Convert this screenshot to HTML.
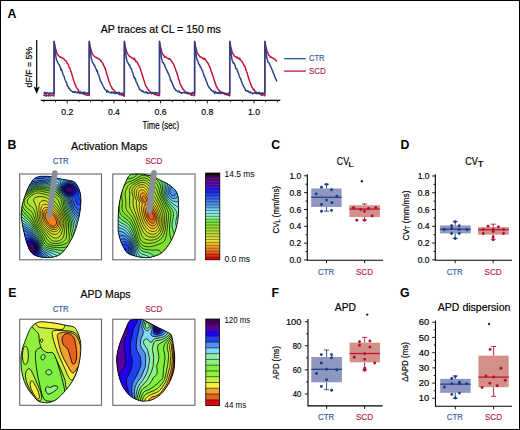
<!DOCTYPE html>
<html><head><meta charset="utf-8"><style>
html,body{margin:0;padding:0;background:#fff;}
svg{display:block;font-family:"Liberation Sans", sans-serif;}
</style></head><body>
<svg width="520" height="430" viewBox="0 0 520 430">
<rect width="520" height="430" fill="#fff"/>
<rect x="0.5" y="0.5" width="519" height="429" fill="none" stroke="#000" stroke-width="1"/>
<text x="7.6" y="17.7" font-size="12.3" fill="#000" font-weight="bold" text-anchor="start" >A</text>
<text x="7.4" y="148.6" font-size="12.3" fill="#000" font-weight="bold" text-anchor="start" >B</text>
<text x="271.2" y="148.7" font-size="12.3" fill="#000" font-weight="bold" text-anchor="start" >C</text>
<text x="400.6" y="148.8" font-size="12.3" fill="#000" font-weight="bold" text-anchor="start" >D</text>
<text x="8.2" y="297.2" font-size="12.3" fill="#000" font-weight="bold" text-anchor="start" >E</text>
<text x="271.6" y="296.8" font-size="12.3" fill="#000" font-weight="bold" text-anchor="start" >F</text>
<text x="400.0" y="297.3" font-size="12.3" fill="#000" font-weight="bold" text-anchor="start" >G</text>
<text x="100.8" y="33.3" font-size="10.3" fill="#000" stroke="#000" stroke-width="0.18" font-weight="normal" text-anchor="start" textLength="120" lengthAdjust="spacingAndGlyphs" >AP traces at CL = 150 ms</text>
<line x1="36.7" y1="40" x2="36.7" y2="88" stroke="#000" stroke-width="1.2"/>
<path d="M33.6,86.4 L36.7,94 L39.8,86.4 L36.7,88.2 Z" fill="#000"/>
<text x="0" y="0" font-size="9" fill="#000" stroke="#000" stroke-width="0.18" font-weight="normal" text-anchor="start" textLength="40.4" lengthAdjust="spacingAndGlyphs" transform="translate(32.2,87.4) rotate(-90)">dF/F = 5%</text>
<line x1="40.8" y1="100.4" x2="280.3" y2="100.4" stroke="#000" stroke-width="1.2"/>
<path d="M43.85,100.4 v1.8 M55.52,100.4 v1.8 M67.20,100.4 v3.0 M78.88,100.4 v1.8 M90.55,100.4 v1.8 M102.22,100.4 v1.8 M113.90,100.4 v3.0 M125.58,100.4 v1.8 M137.25,100.4 v1.8 M148.93,100.4 v1.8 M160.60,100.4 v3.0 M172.28,100.4 v1.8 M183.95,100.4 v1.8 M195.62,100.4 v1.8 M207.30,100.4 v3.0 M218.97,100.4 v1.8 M230.65,100.4 v1.8 M242.32,100.4 v1.8 M254.00,100.4 v3.0 M265.68,100.4 v1.8 M277.35,100.4 v1.8" stroke="#000" stroke-width="0.9" fill="none"/>
<text x="67.2" y="115" font-size="9.6" fill="#000" stroke="#000" stroke-width="0.18" font-weight="normal" text-anchor="middle" textLength="12.0" lengthAdjust="spacingAndGlyphs" >0.2</text>
<text x="113.9" y="115" font-size="9.6" fill="#000" stroke="#000" stroke-width="0.18" font-weight="normal" text-anchor="middle" textLength="12.0" lengthAdjust="spacingAndGlyphs" >0.4</text>
<text x="160.6" y="115" font-size="9.6" fill="#000" stroke="#000" stroke-width="0.18" font-weight="normal" text-anchor="middle" textLength="12.0" lengthAdjust="spacingAndGlyphs" >0.6</text>
<text x="207.3" y="115" font-size="9.6" fill="#000" stroke="#000" stroke-width="0.18" font-weight="normal" text-anchor="middle" textLength="12.0" lengthAdjust="spacingAndGlyphs" >0.8</text>
<text x="254.0" y="115" font-size="9.6" fill="#000" stroke="#000" stroke-width="0.18" font-weight="normal" text-anchor="middle" textLength="12.0" lengthAdjust="spacingAndGlyphs" >1.0</text>
<text x="142.5" y="128.6" font-size="10.4" fill="#000" stroke="#000" stroke-width="0.18" font-weight="normal" text-anchor="start" textLength="36.6" lengthAdjust="spacingAndGlyphs" >Time (sec)</text>
<path d="M43.50,96.07 L44.00,95.29 L44.50,95.32 L45.00,95.12 L45.50,95.80 L46.00,94.69 L46.50,96.11 L47.00,95.23 L47.50,95.61 L48.00,95.41 L48.50,96.01 L49.00,94.78 L49.50,95.39 L50.00,95.37 L50.50,95.90 L51.00,95.12 L51.50,95.44 L52.00,95.19 L52.50,95.51 L53.00,95.70 L53.50,95.11 L54.00,95.90 L54.09,95.50 L54.10,41.20 L54.60,44.10 L55.10,47.00 L55.60,48.76 L56.10,50.53 L56.60,52.61 L57.10,53.63 L57.60,54.53 L58.10,54.74 L58.60,55.70 L59.10,56.17 L59.60,56.67 L60.10,57.21 L60.60,57.04 L61.10,57.40 L61.60,57.56 L62.10,57.74 L62.60,58.05 L63.10,58.52 L63.60,58.37 L64.10,59.08 L64.60,60.16 L65.10,60.43 L65.60,60.68 L66.10,61.02 L66.60,61.66 L67.10,63.09 L67.60,63.52 L68.10,64.28 L68.60,65.57 L69.10,67.24 L69.60,67.54 L70.10,69.22 L70.60,70.61 L71.10,71.88 L71.60,73.23 L72.10,75.13 L72.60,76.80 L73.10,78.71 L73.60,80.29 L74.10,81.83 L74.60,83.10 L75.10,84.81 L75.60,85.24 L76.10,86.94 L76.60,87.68 L77.10,88.40 L77.60,89.24 L78.10,89.62 L78.60,90.61 L79.10,91.32 L79.60,92.12 L80.10,91.44 L80.60,91.99 L81.10,92.53 L81.60,92.97 L82.10,93.43 L82.60,93.45 L83.10,92.84 L83.60,93.65 L84.10,94.25 L84.60,94.25 L85.10,94.65 L85.60,94.51 L86.10,94.73 L86.60,94.98 L87.10,95.17 L87.60,95.20 L88.10,95.29 L88.60,95.12 L89.10,95.60 L89.22,95.50 L89.23,41.20 L89.73,44.10 L90.23,47.00 L90.73,48.76 L91.23,50.53 L91.73,52.34 L92.23,53.85 L92.73,54.64 L93.23,55.04 L93.73,55.61 L94.23,56.28 L94.73,56.91 L95.23,57.05 L95.73,57.16 L96.23,57.56 L96.73,57.58 L97.23,58.28 L97.73,58.12 L98.23,58.95 L98.73,58.90 L99.23,59.21 L99.73,59.20 L100.23,60.23 L100.73,61.01 L101.23,61.00 L101.73,61.82 L102.23,62.51 L102.73,63.02 L103.23,64.61 L103.73,65.80 L104.23,66.20 L104.73,67.62 L105.23,68.54 L105.73,70.49 L106.23,71.43 L106.73,74.02 L107.23,75.39 L107.73,76.87 L108.23,78.23 L108.73,80.45 L109.23,82.19 L109.73,82.35 L110.23,84.93 L110.73,86.07 L111.23,86.62 L111.73,87.08 L112.23,88.80 L112.73,89.01 L113.23,89.43 L113.73,89.78 L114.23,90.98 L114.73,91.63 L115.23,91.71 L115.73,92.68 L116.23,92.31 L116.73,93.20 L117.23,93.14 L117.73,93.27 L118.23,93.51 L118.73,94.06 L119.23,94.23 L119.73,94.36 L120.23,94.43 L120.73,94.62 L121.23,95.02 L121.73,94.99 L122.23,95.26 L122.73,95.03 L123.23,94.40 L123.73,95.72 L124.23,96.24 L124.35,95.50 L124.36,41.20 L124.86,44.10 L125.36,47.00 L125.86,48.76 L126.36,50.53 L126.86,52.45 L127.36,53.42 L127.86,54.17 L128.36,54.94 L128.86,55.75 L129.36,56.11 L129.86,56.58 L130.36,56.67 L130.86,57.37 L131.36,57.44 L131.86,57.97 L132.36,57.98 L132.86,58.63 L133.36,58.59 L133.86,59.53 L134.36,58.34 L134.86,59.36 L135.36,60.48 L135.86,61.63 L136.36,61.25 L136.86,61.93 L137.36,62.42 L137.86,63.97 L138.36,64.40 L138.86,65.74 L139.36,66.39 L139.86,67.05 L140.36,69.11 L140.86,70.68 L141.36,72.45 L141.86,73.59 L142.36,75.03 L142.86,77.07 L143.36,78.58 L143.86,80.10 L144.36,81.47 L144.86,83.41 L145.36,84.63 L145.86,86.17 L146.36,86.89 L146.86,87.73 L147.36,87.93 L147.86,89.28 L148.36,89.79 L148.86,90.50 L149.36,91.15 L149.86,91.22 L150.36,92.22 L150.86,92.30 L151.36,93.39 L151.86,92.45 L152.36,92.51 L152.86,92.76 L153.36,93.23 L153.86,93.36 L154.36,94.65 L154.86,94.06 L155.36,93.91 L155.86,94.98 L156.36,94.59 L156.86,94.48 L157.36,95.33 L157.86,95.35 L158.36,95.10 L158.86,95.85 L159.36,95.52 L159.48,95.50 L159.49,41.20 L159.99,44.10 L160.49,47.00 L160.99,48.76 L161.49,50.53 L161.99,52.86 L162.49,53.63 L162.99,54.76 L163.49,55.02 L163.99,55.31 L164.49,57.36 L164.99,56.57 L165.49,56.95 L165.99,57.03 L166.49,57.47 L166.99,57.88 L167.49,58.11 L167.99,58.51 L168.49,59.15 L168.99,58.72 L169.49,58.57 L169.99,59.17 L170.49,59.93 L170.99,60.16 L171.49,61.62 L171.99,61.74 L172.49,62.39 L172.99,63.50 L173.49,64.01 L173.99,65.20 L174.49,66.74 L174.99,67.72 L175.49,68.84 L175.99,71.13 L176.49,71.54 L176.99,73.50 L177.49,75.17 L177.99,75.90 L178.49,79.18 L178.99,80.13 L179.49,81.13 L179.99,83.72 L180.49,84.70 L180.99,85.65 L181.49,86.29 L181.99,87.54 L182.49,87.97 L182.99,89.35 L183.49,89.51 L183.99,90.26 L184.49,91.21 L184.99,91.46 L185.49,92.02 L185.99,92.60 L186.49,92.45 L186.99,93.21 L187.49,93.67 L187.99,93.60 L188.49,93.86 L188.99,93.45 L189.49,93.66 L189.99,93.67 L190.49,94.81 L190.99,94.50 L191.49,95.29 L191.99,94.64 L192.49,94.87 L192.99,95.17 L193.49,95.57 L193.99,95.38 L194.49,95.54 L194.61,95.50 L194.62,41.20 L195.12,44.10 L195.62,47.00 L196.12,48.76 L196.62,50.53 L197.12,52.30 L197.62,53.52 L198.12,53.83 L198.62,55.01 L199.12,55.67 L199.62,56.48 L200.12,56.93 L200.62,56.78 L201.12,57.25 L201.62,57.44 L202.12,57.95 L202.62,58.31 L203.12,57.95 L203.62,58.73 L204.12,59.48 L204.62,58.49 L205.12,59.29 L205.62,59.86 L206.12,60.65 L206.62,61.90 L207.12,61.92 L207.62,62.26 L208.12,63.72 L208.62,64.29 L209.12,65.89 L209.62,66.61 L210.12,67.99 L210.62,68.77 L211.12,71.56 L211.62,72.29 L212.12,73.85 L212.62,75.23 L213.12,76.62 L213.62,78.20 L214.12,79.95 L214.62,81.22 L215.12,83.10 L215.62,84.21 L216.12,85.72 L216.62,86.83 L217.12,87.25 L217.62,88.92 L218.12,88.99 L218.62,90.05 L219.12,90.37 L219.62,91.18 L220.12,91.01 L220.62,91.89 L221.12,93.01 L221.62,92.49 L222.12,92.21 L222.62,92.45 L223.12,92.46 L223.62,92.81 L224.12,93.61 L224.62,94.41 L225.12,94.02 L225.62,94.50 L226.12,94.55 L226.62,94.80 L227.12,94.85 L227.62,94.96 L228.12,95.30 L228.62,94.84 L229.12,95.71 L229.62,95.79 L229.74,95.50 L229.75,41.20 L230.25,44.10 L230.75,47.00 L231.25,48.76 L231.75,50.53 L232.25,52.23 L232.75,53.74 L233.25,53.97 L233.75,54.79 L234.25,55.79 L234.75,56.43 L235.25,56.60 L235.75,56.78 L236.25,57.08 L236.75,57.87 L237.25,57.12 L237.75,58.16 L238.25,58.20 L238.75,58.77 L239.25,58.94 L239.75,58.03 L240.25,59.79 L240.75,60.28 L241.25,60.76 L241.75,61.17 L242.25,62.22 L242.75,62.36 L243.25,64.14 L243.75,64.70 L244.25,66.25 L244.75,66.23 L245.25,66.89 L245.75,69.25 L246.25,70.80 L246.75,72.01 L247.25,73.09 L247.75,75.09 L248.25,77.09 L248.75,78.44 L249.25,79.96 L249.75,81.44 L250.25,82.67 L250.75,84.31 L251.25,85.00 L251.75,87.12 L252.25,87.33 L252.75,88.67 L253.25,88.71 L253.75,89.92 L254.25,89.56 L254.75,91.11 L255.25,91.34 L255.75,92.67 L256.25,92.04 L256.75,92.74 L257.25,93.05 L257.75,93.56 L258.25,93.19 L258.75,93.58 L259.25,93.00 L259.75,93.67 L260.25,94.33 L260.75,94.77 L261.25,94.49 L261.75,95.52 L262.25,95.53 L262.75,95.00 L263.25,94.29 L263.75,94.63 L264.25,95.09 L264.75,95.86 L264.87,95.50 L264.88,41.20 L265.38,44.10 L265.88,47.00 L266.38,48.76 L266.88,50.53 L267.38,52.40 L267.88,52.72 L268.38,54.14 L268.88,55.54 L269.38,55.61 L269.88,56.24 L270.38,57.48 L270.88,57.04 L271.38,57.11 L271.88,57.66 L272.38,57.81 L272.88,57.89 L273.38,58.70 L273.88,58.91 L274.38,59.05 L274.88,58.96 L275.38,59.98 L275.88,60.15 L276.38,60.91 L276.88,61.70" fill="none" stroke="#c0123a" stroke-width="1.45" stroke-linejoin="round"/>
<path d="M43.50,93.11 L44.00,93.27 L44.50,92.34 L45.00,94.04 L45.50,92.49 L46.00,92.92 L46.50,93.53 L47.00,92.74 L47.50,92.82 L48.00,92.89 L48.50,93.55 L49.00,94.33 L49.50,93.32 L50.00,92.80 L50.50,93.54 L51.00,93.03 L51.50,93.29 L52.00,93.83 L52.50,92.96 L53.00,93.30 L53.50,92.90 L54.00,93.23 L54.09,93.30 L54.10,41.80 L54.60,45.90 L55.10,50.00 L55.60,54.15 L56.10,58.30 L56.60,60.02 L57.10,61.06 L57.60,62.22 L58.10,63.14 L58.60,63.84 L59.10,64.47 L59.60,65.44 L60.10,67.10 L60.60,68.13 L61.10,70.34 L61.60,69.32 L62.10,71.55 L62.60,73.00 L63.10,74.78 L63.60,75.73 L64.10,76.45 L64.60,78.17 L65.10,79.74 L65.60,80.61 L66.10,82.35 L66.60,82.41 L67.10,85.28 L67.60,86.16 L68.10,86.35 L68.60,87.78 L69.10,88.52 L69.60,88.70 L70.10,89.69 L70.60,90.68 L71.10,90.63 L71.60,90.86 L72.10,91.23 L72.60,91.70 L73.10,92.31 L73.60,91.68 L74.10,92.43 L74.60,92.38 L75.10,91.52 L75.60,92.25 L76.10,92.46 L76.60,92.58 L77.10,92.83 L77.60,91.84 L78.10,92.86 L78.60,92.62 L79.10,92.35 L79.60,93.25 L80.10,93.36 L80.60,92.75 L81.10,93.44 L81.60,92.90 L82.10,93.12 L82.60,92.61 L83.10,93.83 L83.60,91.94 L84.10,93.11 L84.60,93.48 L85.10,92.26 L85.60,93.11 L86.10,93.17 L86.60,93.59 L87.10,93.80 L87.60,93.07 L88.10,92.64 L88.60,93.90 L89.10,93.84 L89.22,93.30 L89.23,41.80 L89.73,45.90 L90.23,50.00 L90.73,54.15 L91.23,58.30 L91.73,59.69 L92.23,61.66 L92.73,62.55 L93.23,63.50 L93.73,64.22 L94.23,65.63 L94.73,65.30 L95.23,67.64 L95.73,68.42 L96.23,69.24 L96.73,70.94 L97.23,70.45 L97.73,73.36 L98.23,74.34 L98.73,74.99 L99.23,77.03 L99.73,78.03 L100.23,80.66 L100.73,81.58 L101.23,82.20 L101.73,82.93 L102.23,84.24 L102.73,85.35 L103.23,86.25 L103.73,87.09 L104.23,88.23 L104.73,88.95 L105.23,89.42 L105.73,89.91 L106.23,90.38 L106.73,92.18 L107.23,90.60 L107.73,91.04 L108.23,91.93 L108.73,91.82 L109.23,92.39 L109.73,92.64 L110.23,92.93 L110.73,92.78 L111.23,92.07 L111.73,93.10 L112.23,91.89 L112.73,92.71 L113.23,92.62 L113.73,92.44 L114.23,93.27 L114.73,92.93 L115.23,93.49 L115.73,92.38 L116.23,93.44 L116.73,93.30 L117.23,93.15 L117.73,92.47 L118.23,93.01 L118.73,92.44 L119.23,92.21 L119.73,94.64 L120.23,93.61 L120.73,94.00 L121.23,93.01 L121.73,93.54 L122.23,93.55 L122.73,93.52 L123.23,93.27 L123.73,93.18 L124.23,92.36 L124.35,93.30 L124.36,41.80 L124.86,45.90 L125.36,50.00 L125.86,54.15 L126.36,58.30 L126.86,60.17 L127.36,61.69 L127.86,62.88 L128.36,63.13 L128.86,64.91 L129.36,64.80 L129.86,65.52 L130.36,67.59 L130.86,68.04 L131.36,68.77 L131.86,70.47 L132.36,71.84 L132.86,72.94 L133.36,74.39 L133.86,77.35 L134.36,77.20 L134.86,78.86 L135.36,78.61 L135.86,80.91 L136.36,82.35 L136.86,83.09 L137.36,84.11 L137.86,85.68 L138.36,86.36 L138.86,87.23 L139.36,89.02 L139.86,89.68 L140.36,89.79 L140.86,90.02 L141.36,91.03 L141.86,91.41 L142.36,91.55 L142.86,90.85 L143.36,91.58 L143.86,92.13 L144.36,92.48 L144.86,92.71 L145.36,92.70 L145.86,91.93 L146.36,92.20 L146.86,92.05 L147.36,93.49 L147.86,92.84 L148.36,93.09 L148.86,93.38 L149.36,92.85 L149.86,92.50 L150.36,92.84 L150.86,92.98 L151.36,93.73 L151.86,93.47 L152.36,92.60 L152.86,93.40 L153.36,93.45 L153.86,92.66 L154.36,93.10 L154.86,92.33 L155.36,93.33 L155.86,93.05 L156.36,92.60 L156.86,92.91 L157.36,93.34 L157.86,93.00 L158.36,93.40 L158.86,93.53 L159.36,92.92 L159.48,93.30 L159.49,41.80 L159.99,45.90 L160.49,50.00 L160.99,54.15 L161.49,58.30 L161.99,59.76 L162.49,62.47 L162.99,62.43 L163.49,62.87 L163.99,64.15 L164.49,64.40 L164.99,66.59 L165.49,67.33 L165.99,68.74 L166.49,69.74 L166.99,70.59 L167.49,71.94 L167.99,72.92 L168.49,73.87 L168.99,75.04 L169.49,76.63 L169.99,77.04 L170.49,80.32 L170.99,79.98 L171.49,81.97 L171.99,82.66 L172.49,83.59 L172.99,85.46 L173.49,86.36 L173.99,87.43 L174.49,88.75 L174.99,88.80 L175.49,89.82 L175.99,90.46 L176.49,90.65 L176.99,90.91 L177.49,91.51 L177.99,91.53 L178.49,91.80 L178.99,90.90 L179.49,92.23 L179.99,92.45 L180.49,92.30 L180.99,92.59 L181.49,93.38 L181.99,92.64 L182.49,92.98 L182.99,92.38 L183.49,92.46 L183.99,92.70 L184.49,92.54 L184.99,93.01 L185.49,92.61 L185.99,92.97 L186.49,92.41 L186.99,92.33 L187.49,92.78 L187.99,92.62 L188.49,92.82 L188.99,92.86 L189.49,92.99 L189.99,93.63 L190.49,93.79 L190.99,93.52 L191.49,93.05 L191.99,93.90 L192.49,92.55 L192.99,92.34 L193.49,93.39 L193.99,93.28 L194.49,93.23 L194.61,93.30 L194.62,41.80 L195.12,45.90 L195.62,50.00 L196.12,54.15 L196.62,58.30 L197.12,59.91 L197.62,60.76 L198.12,61.85 L198.62,63.81 L199.12,64.59 L199.62,64.68 L200.12,66.95 L200.62,66.68 L201.12,67.99 L201.62,69.46 L202.12,69.88 L202.62,71.28 L203.12,72.76 L203.62,73.99 L204.12,75.89 L204.62,77.10 L205.12,77.67 L205.62,79.19 L206.12,80.83 L206.62,81.97 L207.12,82.90 L207.62,84.69 L208.12,85.87 L208.62,86.22 L209.12,87.86 L209.62,87.77 L210.12,88.35 L210.62,89.87 L211.12,89.85 L211.62,90.35 L212.12,90.91 L212.62,90.96 L213.12,91.65 L213.62,91.08 L214.12,91.80 L214.62,93.62 L215.12,92.33 L215.62,91.50 L216.12,92.71 L216.62,92.77 L217.12,93.22 L217.62,92.75 L218.12,92.47 L218.62,93.47 L219.12,93.24 L219.62,92.19 L220.12,93.35 L220.62,92.92 L221.12,93.54 L221.62,92.89 L222.12,93.43 L222.62,93.18 L223.12,93.37 L223.62,93.11 L224.12,92.95 L224.62,93.18 L225.12,93.45 L225.62,93.37 L226.12,93.92 L226.62,93.40 L227.12,93.51 L227.62,94.18 L228.12,93.28 L228.62,93.51 L229.12,93.01 L229.62,93.32 L229.74,93.30 L229.75,41.80 L230.25,45.90 L230.75,50.00 L231.25,54.15 L231.75,58.30 L232.25,60.64 L232.75,61.64 L233.25,63.03 L233.75,62.77 L234.25,63.49 L234.75,65.14 L235.25,65.47 L235.75,68.37 L236.25,68.81 L236.75,68.77 L237.25,70.34 L237.75,71.24 L238.25,73.02 L238.75,74.14 L239.25,75.92 L239.75,77.49 L240.25,78.07 L240.75,78.97 L241.25,81.00 L241.75,81.93 L242.25,83.77 L242.75,84.43 L243.25,85.87 L243.75,86.65 L244.25,87.41 L244.75,88.30 L245.25,89.40 L245.75,90.79 L246.25,90.60 L246.75,90.74 L247.25,91.35 L247.75,91.32 L248.25,90.92 L248.75,91.87 L249.25,92.66 L249.75,92.06 L250.25,91.77 L250.75,92.58 L251.25,93.26 L251.75,92.94 L252.25,93.06 L252.75,93.72 L253.25,93.49 L253.75,93.16 L254.25,92.83 L254.75,93.06 L255.25,92.97 L255.75,93.41 L256.25,92.65 L256.75,93.75 L257.25,93.14 L257.75,92.91 L258.25,93.47 L258.75,92.18 L259.25,92.76 L259.75,92.85 L260.25,93.53 L260.75,92.96 L261.25,93.83 L261.75,93.01 L262.25,93.46 L262.75,92.92 L263.25,93.77 L263.75,93.15 L264.25,93.51 L264.75,93.07 L264.87,93.30 L264.88,41.80 L265.38,45.90 L265.88,50.00 L266.38,54.15 L266.88,58.30 L267.38,59.41 L267.88,61.40 L268.38,62.87 L268.88,62.79 L269.38,63.44 L269.88,64.86 L270.38,66.43 L270.88,66.69 L271.38,68.01 L271.88,69.42 L272.38,70.27 L272.88,71.63 L273.38,73.37 L273.88,74.18 L274.38,75.47 L274.88,77.18 L275.38,78.14 L275.88,79.07 L276.38,80.29 L276.88,81.50" fill="none" stroke="#26428a" stroke-width="1.45" stroke-linejoin="round"/>
<line x1="284.1" y1="58.7" x2="305.8" y2="58.7" stroke="#33549a" stroke-width="1.3"/>
<line x1="284.1" y1="71.1" x2="305.8" y2="71.1" stroke="#c0123a" stroke-width="1.3"/>
<text x="309" y="61.0" font-size="9.5" fill="#3d5c9e" stroke="#3d5c9e" stroke-width="0.18" font-weight="normal" text-anchor="start" textLength="15.6" lengthAdjust="spacingAndGlyphs" >CTR</text>
<text x="309" y="73.9" font-size="9.5" fill="#b82a50" stroke="#b82a50" stroke-width="0.18" font-weight="normal" text-anchor="start" textLength="16.8" lengthAdjust="spacingAndGlyphs" >SCD</text>
<text x="71" y="149.5" font-size="10.9" fill="#000" stroke="#000" stroke-width="0.18" font-weight="normal" text-anchor="start" textLength="76.5" lengthAdjust="spacingAndGlyphs" >Activation Maps</text>
<text x="52.7" y="164.2" font-size="9.4" fill="#3d5c9e" stroke="#3d5c9e" stroke-width="0.18" font-weight="normal" text-anchor="start" textLength="16.1" lengthAdjust="spacingAndGlyphs" >CTR</text>
<text x="145.2" y="164.2" font-size="9.4" fill="#b82a50" stroke="#b82a50" stroke-width="0.18" font-weight="normal" text-anchor="start" textLength="17.2" lengthAdjust="spacingAndGlyphs" >SCD</text>
<text x="80.6" y="297.9" font-size="10.9" fill="#000" stroke="#000" stroke-width="0.18" font-weight="normal" text-anchor="start" textLength="50" lengthAdjust="spacingAndGlyphs" >APD Maps</text>
<text x="52.7" y="312.0" font-size="9.4" fill="#3d5c9e" stroke="#3d5c9e" stroke-width="0.18" font-weight="normal" text-anchor="start" textLength="16.1" lengthAdjust="spacingAndGlyphs" >CTR</text>
<text x="145.2" y="312.0" font-size="9.4" fill="#b82a50" stroke="#b82a50" stroke-width="0.18" font-weight="normal" text-anchor="start" textLength="17.2" lengthAdjust="spacingAndGlyphs" >SCD</text>
<rect x="19.7" y="174.0" width="81.8" height="85.8" fill="none" stroke="#666" stroke-width="1.1"/>
<rect x="112.8" y="174.0" width="82.2" height="85.8" fill="none" stroke="#666" stroke-width="1.1"/>
<rect x="19.7" y="319.2" width="81.8" height="86.1" fill="none" stroke="#666" stroke-width="1.1"/>
<rect x="112.8" y="319.2" width="82.1" height="86.1" fill="none" stroke="#666" stroke-width="1.1"/>
<clipPath id="cp1"><path d="M33.10,179.80 C34.70,177.93 36.17,177.48 37.70,176.90 C39.23,176.32 40.00,176.33 42.30,176.30 C44.60,176.27 48.80,176.33 51.50,176.70 C54.20,177.07 56.18,177.98 58.50,178.50 C60.82,179.02 62.90,179.30 65.40,179.80 C67.90,180.30 71.58,180.63 73.50,181.50 C75.42,182.37 75.95,183.65 76.90,185.00 C77.85,186.35 78.60,187.93 79.20,189.60 C79.80,191.27 80.22,193.10 80.50,195.00 C80.78,196.90 80.88,199.17 80.90,201.00 C80.92,202.83 80.72,204.50 80.60,206.00 C80.48,207.50 80.43,208.33 80.20,210.00 C79.97,211.67 79.58,214.13 79.20,216.00 C78.82,217.87 78.67,218.48 77.90,221.20 C77.13,223.92 76.08,228.58 74.60,232.30 C73.12,236.02 71.05,240.13 69.00,243.50 C66.95,246.87 64.53,250.33 62.30,252.50 C60.07,254.67 57.98,255.67 55.60,256.50 C53.22,257.33 50.52,257.42 48.00,257.50 C45.48,257.58 42.75,257.42 40.50,257.00 C38.25,256.58 36.22,256.00 34.50,255.00 C32.78,254.00 31.48,253.00 30.20,251.00 C28.92,249.00 27.83,246.10 26.80,243.00 C25.77,239.90 24.77,235.73 24.00,232.40 C23.23,229.07 22.67,225.90 22.20,223.00 C21.73,220.10 21.17,218.10 21.20,215.00 C21.23,211.90 21.78,207.52 22.40,204.40 C23.02,201.28 23.95,199.02 24.90,196.30 C25.85,193.58 26.73,190.85 28.10,188.10 C29.47,185.35 31.50,181.67 33.10,179.80 Z"/></clipPath>
<g clip-path="url(#cp1)">
<rect x="19.2" y="174.3" width="63.7" height="85.2" fill="#e00000"/>
<path d="M82.9,259.6 19.2,259.6 18.9,259.3 18.9,174.3 19.2,174.0 82.9,174.0 83.2,174.3 83.2,259.3 82.9,259.6Z" fill="#e83010" fill-rule="evenodd" stroke="#000" stroke-width="0.7" stroke-opacity="1"/>
<path d="M82.9,259.6 19.2,259.6 18.9,259.3 18.9,174.3 19.2,174.0 82.9,174.0 83.2,174.3 83.1,259.3 82.9,259.6Z" fill="#e86020" fill-rule="evenodd" stroke="#000" stroke-width="0.7" stroke-opacity="1"/>
<path d="M82.9,259.6 19.2,259.6 18.9,259.3 18.9,174.3 19.2,174.0 82.9,174.0 83.1,174.3 83.1,259.3 82.9,259.6Z" fill="#f08020" fill-rule="evenodd" stroke="#000" stroke-width="0.7" stroke-opacity="1"/>
<path d="M82.9,259.5 19.2,259.6 18.9,259.3 19.0,174.3 19.2,174.1 82.9,174.0 83.1,174.3 83.1,259.3 82.9,259.5ZM54.6,226.0 55.2,225.6 55.9,225.0 56.2,224.4 56.4,224.0 56.6,223.0 56.6,222.0 56.3,220.6 55.9,219.3 55.2,218.0 54.2,216.5 52.9,215.0 51.9,213.9 50.5,212.9 49.2,212.1 48.2,211.9 47.2,211.9 46.5,212.1 45.9,212.6 45.5,213.3 45.2,214.3 45.1,215.6 45.1,216.6 45.4,218.0 45.9,219.3 46.6,220.6 47.4,222.0 48.5,223.3 49.5,224.3 50.5,225.1 51.5,225.7 52.5,226.0 53.5,226.2 54.2,226.1 54.6,226.0Z" fill="#f0a020" fill-rule="evenodd" stroke="#000" stroke-width="0.7" stroke-opacity="1"/>
<path d="M82.9,259.5 19.2,259.5 19.0,259.3 19.0,174.3 19.2,174.1 82.9,174.1 83.1,174.3 83.1,259.3 82.9,259.5ZM55.3,227.6 55.9,227.3 56.4,227.0 56.9,226.5 57.2,226.0 57.7,225.0 58.0,223.6 58.1,222.3 58.0,221.6 57.8,220.6 57.4,219.3 56.6,217.6 55.3,215.6 54.0,214.0 52.5,212.5 50.9,211.1 49.9,210.5 49.2,210.2 47.9,209.7 47.2,209.6 46.5,209.6 45.9,209.8 45.5,210.0 45.2,210.2 44.8,210.6 44.5,211.0 44.1,211.6 43.7,213.0 43.5,214.6 43.6,216.3 43.9,218.0 44.4,219.6 45.1,221.0 46.1,222.6 47.4,224.3 48.9,225.7 50.2,226.7 51.5,227.4 52.9,227.8 53.5,227.9 54.2,227.9 55.3,227.6Z" fill="#f0c020" fill-rule="evenodd" stroke="#000" stroke-width="0.7" stroke-opacity="1"/>
<path d="M82.9,259.5 19.2,259.5 19.0,259.3 19.0,174.3 19.2,174.1 82.9,174.1 83.1,174.3 83.1,259.3 82.9,259.5ZM54.7,229.6 55.5,229.4 56.2,229.2 57.2,228.5 57.7,228.0 58.2,227.3 58.6,226.6 59.0,225.6 59.2,225.0 59.4,224.0 59.5,223.0 59.5,222.0 59.2,220.3 58.9,219.3 58.5,218.3 57.9,217.1 57.2,216.0 55.6,213.6 53.9,211.6 52.9,210.7 51.9,209.8 49.9,208.5 48.9,207.9 47.9,207.5 46.9,207.3 46.2,207.2 45.5,207.2 44.9,207.4 44.2,207.8 43.9,208.1 43.2,209.0 42.9,209.7 42.5,210.6 42.2,212.3 42.1,214.3 42.2,216.6 42.6,218.6 42.9,219.6 43.2,220.6 44.2,222.5 45.5,224.3 47.0,226.0 48.5,227.4 50.2,228.5 51.2,229.0 51.9,229.3 53.2,229.6 53.9,229.7 54.7,229.6Z" fill="#f0e030" fill-rule="evenodd" stroke="#000" stroke-width="0.7" stroke-opacity="1"/>
<path d="M82.9,259.5 19.2,259.5 19.0,259.3 19.0,203.3 19.0,174.3 19.2,174.1 82.9,174.1 83.1,174.3 83.0,259.3 82.9,259.5ZM55.2,231.6 56.2,231.4 56.9,231.0 57.5,230.6 58.2,230.0 58.9,229.2 59.5,228.3 60.0,227.3 60.3,226.3 60.6,225.3 60.8,224.3 60.9,223.3 60.9,222.3 60.8,221.3 60.6,220.3 60.3,219.3 59.8,218.0 59.2,216.6 58.3,215.0 57.4,213.6 56.5,212.4 55.7,211.3 54.7,210.3 53.7,209.3 52.5,208.3 51.2,207.2 49.5,206.0 48.2,205.2 47.2,204.8 46.2,204.4 45.2,204.3 44.2,204.4 43.5,204.6 42.9,205.0 42.5,205.3 42.0,206.0 41.7,206.6 41.4,207.3 41.1,208.3 40.8,210.6 40.6,213.6 40.8,216.6 41.1,219.0 41.5,220.3 41.9,221.3 42.4,222.3 42.9,223.3 43.6,224.3 44.4,225.3 46.2,227.3 48.2,229.1 49.2,229.8 50.2,230.4 51.9,231.2 52.9,231.5 53.5,231.7 54.5,231.7 55.2,231.6Z" fill="#e0e030" fill-rule="evenodd" stroke="#000" stroke-width="0.7" stroke-opacity="1"/>
<path d="M82.9,259.5 19.2,259.5 19.0,259.3 19.1,203.3 19.0,174.3 19.2,174.1 82.9,174.1 83.1,174.3 83.0,259.3 82.9,259.5ZM55.9,234.3 56.9,234.0 57.5,233.6 58.5,232.8 59.2,232.1 59.9,231.1 60.5,230.0 61.1,228.6 61.6,227.3 62.0,226.0 62.2,225.0 62.3,223.6 62.3,222.6 62.2,221.6 62.0,220.3 61.6,219.0 61.1,217.6 60.2,215.7 59.2,213.8 58.2,212.2 57.2,210.7 56.2,209.5 55.2,208.4 53.9,207.2 52.2,205.7 48.5,202.6 47.2,201.7 46.2,201.1 44.9,200.7 43.9,200.6 42.9,200.7 41.9,201.0 41.2,201.3 40.5,201.9 40.2,202.3 39.7,203.0 39.5,203.6 39.3,204.3 39.1,205.3 39.0,206.3 38.9,208.0 39.0,210.3 39.1,214.3 39.3,216.6 39.5,218.3 39.8,219.6 40.2,221.0 40.5,222.0 41.0,223.0 41.6,224.0 42.2,225.0 43.2,226.3 44.2,227.4 45.5,228.8 46.9,230.0 48.2,231.1 49.5,232.1 50.5,232.8 51.5,233.4 52.5,233.9 53.5,234.2 54.2,234.3 55.2,234.4 55.9,234.3Z" fill="#c8e030" fill-rule="evenodd" stroke="#000" stroke-width="0.7" stroke-opacity="1"/>
<path d="M82.9,259.4 19.2,259.5 19.0,259.3 19.1,203.3 19.1,174.3 19.2,174.2 82.9,174.1 83.0,174.3 83.0,259.3 82.9,259.4ZM57.1,238.0 58.2,237.5 59.2,236.9 60.0,236.0 60.9,234.7 61.6,233.0 62.5,230.1 63.3,227.3 63.7,225.0 63.8,223.6 63.7,222.3 63.5,221.0 63.2,219.6 62.8,218.3 62.1,216.6 60.2,212.7 58.5,209.9 57.5,208.4 56.5,207.2 55.2,205.8 52.4,203.0 49.5,200.0 48.5,199.1 47.5,198.3 46.5,197.8 45.2,197.3 43.9,197.0 42.2,196.7 39.9,196.6 38.2,196.7 36.9,196.9 35.8,197.3 34.8,198.0 34.2,198.5 33.9,199.0 33.6,199.6 33.6,200.0 33.6,200.6 34.0,201.6 34.9,203.4 35.5,205.0 36.0,206.3 36.5,208.0 36.9,209.7 37.1,211.3 37.8,217.0 38.1,219.0 38.7,221.3 39.2,222.6 39.6,223.6 40.2,224.6 41.1,226.0 42.1,227.3 43.2,228.5 44.9,230.3 47.2,232.6 49.9,235.1 51.2,236.2 52.2,237.0 52.9,237.4 54.2,237.9 54.9,238.1 55.5,238.1 56.2,238.1 57.1,238.0Z" fill="#b0e030" fill-rule="evenodd" stroke="#000" stroke-width="0.7" stroke-opacity="1"/>
<path d="M82.9,259.4 19.2,259.5 19.0,259.3 19.1,203.3 19.1,174.3 19.2,174.2 82.9,174.1 83.0,174.3 83.0,259.3 82.9,259.4ZM58.1,241.0 59.2,240.6 59.9,240.3 61.2,239.5 61.9,239.0 62.5,238.3 62.9,237.6 63.3,237.0 63.7,236.0 64.0,234.6 64.5,230.6 65.2,225.3 65.3,223.6 65.2,222.3 65.0,221.0 64.7,219.6 64.1,218.0 63.4,216.3 60.8,210.6 59.9,208.9 58.9,207.2 57.9,205.6 56.5,203.8 51.8,198.3 50.4,197.0 49.1,196.0 47.5,195.2 45.9,194.6 42.1,193.6 39.5,193.1 38.2,193.0 36.9,193.1 35.8,193.3 34.5,193.8 33.1,194.6 31.3,196.0 29.6,197.3 28.4,198.6 27.9,199.3 27.6,200.0 27.3,201.0 27.3,202.0 27.5,203.0 28.2,204.0 28.8,204.6 31.5,206.6 32.5,207.5 33.4,208.6 34.0,209.6 34.6,211.0 35.2,212.7 35.5,214.2 36.4,219.0 36.9,220.6 37.3,222.0 38.0,223.6 38.7,225.0 39.7,226.6 40.9,228.1 46.0,234.0 49.4,238.3 50.2,239.1 50.9,239.6 51.5,240.1 52.5,240.6 53.5,240.9 54.2,241.1 55.2,241.2 56.2,241.2 57.2,241.1 58.1,241.0Z" fill="#a0e030" fill-rule="evenodd" stroke="#000" stroke-width="0.7" stroke-opacity="1"/>
<path d="M82.9,259.4 19.2,259.4 19.1,259.3 19.1,203.3 19.1,174.3 19.2,174.2 82.9,174.2 83.0,174.3 83.0,259.3 82.9,259.4ZM58.7,243.3 59.9,243.0 61.2,242.6 62.5,242.0 63.5,241.4 64.5,240.6 65.1,240.0 65.6,239.3 66.1,238.3 66.5,237.0 66.6,235.6 66.5,230.3 66.9,225.4 66.9,224.0 66.8,222.6 66.7,221.6 66.4,220.3 65.9,219.0 65.3,217.3 63.1,212.3 60.7,206.6 58.5,200.8 58.1,200.0 57.5,199.2 56.6,198.3 55.5,197.3 53.4,195.6 52.0,194.6 50.5,193.8 49.2,193.2 47.9,192.8 46.2,192.4 41.5,191.3 39.5,191.0 38.2,190.9 36.9,191.0 35.8,191.3 34.5,191.8 33.5,192.3 32.0,193.3 28.2,196.0 26.6,197.3 26.0,198.0 25.4,198.6 25.0,199.3 24.7,200.0 24.4,200.6 24.3,201.6 24.2,202.3 24.3,203.3 24.5,204.3 24.9,205.2 25.5,206.3 26.5,207.5 27.5,208.4 29.5,209.9 30.5,210.7 31.5,211.6 32.2,212.6 32.9,213.8 33.5,215.3 35.0,220.0 35.7,222.0 36.4,223.6 37.2,225.3 38.2,226.9 39.2,228.3 43.0,233.0 44.3,234.6 45.3,236.3 47.2,239.5 48.2,240.8 49.1,241.6 50.1,242.3 51.2,242.8 52.5,243.2 53.9,243.4 55.5,243.5 57.2,243.5 58.7,243.3Z" fill="#90e030" fill-rule="evenodd" stroke="#000" stroke-width="0.7" stroke-opacity="1"/>
<path d="M82.9,259.4 19.2,259.4 19.1,259.3 19.1,231.6 19.2,203.3 19.1,174.3 19.2,174.2 82.9,174.2 83.0,174.3 82.9,259.3 82.9,259.4ZM60.3,245.3 62.2,244.9 64.2,244.2 65.9,243.5 67.1,242.6 68.1,241.6 68.5,241.0 68.9,240.3 69.1,239.6 69.3,239.0 69.4,237.6 69.3,236.0 68.7,232.0 68.5,230.3 68.4,228.6 68.5,224.0 68.4,222.6 68.2,221.3 67.8,220.0 67.3,218.6 64.4,212.0 62.8,207.6 62.3,206.0 62.0,204.6 61.3,200.6 61.2,200.0 60.9,199.3 60.5,198.6 59.7,197.6 59.0,197.0 57.9,196.0 54.9,193.5 53.5,192.5 52.5,191.9 51.2,191.4 49.2,190.9 44.9,190.2 41.2,189.6 39.5,189.4 38.2,189.4 36.9,189.6 35.5,189.9 34.2,190.5 33.2,191.0 31.6,192.0 26.1,195.6 24.5,197.0 23.9,197.6 23.3,198.3 22.8,199.3 22.4,200.3 22.2,201.3 22.1,202.3 22.1,203.6 22.4,205.0 22.8,206.3 23.2,207.3 23.9,208.6 24.9,210.0 26.2,211.3 28.5,213.3 29.5,214.2 30.5,215.3 31.2,216.3 32.2,218.1 34.6,223.3 36.0,226.0 37.9,228.8 41.3,233.3 42.4,235.0 43.0,236.0 43.7,237.3 45.5,241.3 46.2,242.3 46.8,243.0 47.6,243.6 48.9,244.3 50.5,244.8 52.2,245.2 54.2,245.5 56.2,245.6 58.2,245.5 60.3,245.3Z" fill="#80e030" fill-rule="evenodd" stroke="#000" stroke-width="0.7" stroke-opacity="1"/>
<path d="M82.9,259.4 31.5,259.4 19.2,259.4 19.1,259.3 19.1,231.6 19.2,203.3 19.1,174.3 19.2,174.2 82.9,174.2 83.0,174.3 82.9,259.3 82.9,259.4ZM61.8,247.6 64.5,247.4 66.9,247.1 67.9,246.9 68.9,246.6 70.2,245.9 70.9,245.4 71.3,245.0 71.9,244.3 72.2,243.7 72.5,243.0 72.7,242.3 72.8,241.6 72.9,240.6 72.8,239.3 72.6,238.0 72.1,236.3 70.9,232.6 70.4,230.3 70.2,228.3 70.1,223.6 69.9,222.3 69.6,221.0 69.3,220.0 68.8,218.6 66.1,212.6 65.1,210.3 64.4,208.3 64.0,206.6 63.7,205.3 63.1,200.6 62.9,199.7 62.6,199.0 61.9,198.0 61.1,197.0 57.6,193.6 54.9,190.8 53.8,190.0 53.2,189.6 52.5,189.4 51.9,189.2 50.9,189.1 46.2,188.9 41.2,188.2 39.2,188.1 37.9,188.2 36.5,188.4 35.2,188.8 34.1,189.3 32.2,190.3 24.2,195.2 23.2,195.9 22.5,196.6 21.9,197.3 21.5,198.0 21.0,199.0 20.5,200.3 20.3,201.6 20.3,203.3 20.4,205.0 20.7,206.3 21.2,207.9 21.8,209.3 22.9,211.2 24.0,212.6 25.2,214.0 28.9,217.4 30.2,219.0 31.2,220.4 35.7,228.0 37.2,230.1 39.7,233.6 41.0,235.6 41.7,237.0 42.2,238.0 43.5,241.5 44.0,242.6 44.8,244.0 45.5,244.7 46.5,245.5 47.5,246.0 48.9,246.4 50.9,246.9 53.5,247.3 56.5,247.6 59.2,247.7 61.8,247.6Z" fill="#70e850" fill-rule="evenodd" stroke="#000" stroke-width="0.7" stroke-opacity="1"/>
<path d="M82.9,259.3 32.5,259.4 19.2,259.4 19.1,259.3 19.1,231.6 19.2,207.6 19.7,209.3 20.4,211.0 21.2,212.4 22.2,214.0 23.2,215.2 24.2,216.3 28.2,219.8 29.2,220.8 30.2,222.0 31.9,224.3 35.4,229.6 38.6,234.3 39.8,236.3 40.7,238.0 41.4,239.6 42.5,242.9 43.2,244.4 43.6,245.0 44.2,245.8 44.9,246.5 45.5,247.0 46.2,247.4 47.2,247.8 48.2,248.1 49.5,248.5 60.5,250.4 62.9,251.0 66.9,252.1 68.2,252.4 69.5,252.5 70.9,252.5 72.2,252.3 72.9,252.0 73.5,251.7 74.6,251.0 75.6,250.0 76.4,248.6 76.9,247.6 77.1,247.0 77.4,245.3 77.5,243.6 77.5,242.3 77.3,241.3 77.1,240.3 76.7,239.3 75.8,237.3 73.5,233.4 72.9,232.0 72.5,231.0 72.2,229.8 72.0,228.6 71.8,227.3 71.6,223.3 71.4,222.0 71.1,220.6 70.3,218.6 67.5,212.8 66.8,211.0 66.1,209.3 65.5,207.3 65.1,205.6 64.9,204.3 64.6,201.3 64.3,200.0 64.1,199.3 63.7,198.6 62.8,197.3 61.9,196.3 59.4,194.0 58.5,193.0 57.4,191.6 55.9,189.3 55.2,188.5 54.5,187.9 53.9,187.5 53.2,187.3 52.2,187.1 50.9,187.2 47.9,187.4 46.2,187.4 44.5,187.4 40.9,187.1 39.2,187.0 37.9,187.1 36.5,187.4 35.5,187.6 34.2,188.1 32.2,189.1 27.5,191.8 23.2,194.0 21.7,195.0 20.6,196.0 19.9,197.0 19.2,198.4 19.1,174.3 19.2,174.2 82.9,174.2 83.0,174.3 83.0,206.0 82.9,259.3Z" fill="#80f0a0" fill-rule="evenodd" stroke="#000" stroke-width="0.7" stroke-opacity="1"/>
<path d="M82.9,259.3 33.2,259.4 19.2,259.4 19.1,259.3 19.1,232.3 19.2,212.8 19.9,214.1 20.6,215.3 21.3,216.3 22.2,217.3 23.9,218.9 27.2,221.5 28.5,222.7 29.9,224.0 31.5,226.1 37.4,234.6 38.8,237.0 39.5,238.3 40.1,239.6 41.9,244.3 42.3,245.3 42.9,246.3 43.5,247.2 44.2,247.9 44.9,248.4 45.9,249.0 46.9,249.4 48.2,249.9 54.7,251.6 57.7,252.6 59.2,253.3 60.5,254.0 65.2,256.6 67.2,257.5 68.5,257.9 69.9,258.2 71.2,258.3 72.5,258.2 73.5,258.1 74.5,257.8 75.5,257.5 76.5,257.0 77.5,256.3 78.2,255.7 78.9,255.0 79.4,254.3 80.0,253.3 80.5,252.3 81.2,250.3 81.5,249.1 81.7,248.0 81.8,246.6 81.9,245.3 81.8,243.3 81.5,241.6 81.1,240.0 80.5,238.6 79.8,237.3 79.1,236.3 76.5,233.4 75.5,232.2 74.8,231.0 74.2,229.6 73.9,228.6 73.7,227.6 73.1,223.0 72.7,221.0 72.4,220.0 71.8,218.6 68.7,212.3 67.9,210.4 67.2,208.6 66.7,207.0 66.4,205.6 66.1,204.3 65.7,201.0 65.5,200.0 65.2,199.3 64.7,198.3 64.0,197.3 63.0,196.3 60.3,193.6 58.9,192.0 58.1,190.6 56.5,187.5 55.9,186.5 55.4,186.0 54.9,185.6 54.2,185.4 53.2,185.2 51.9,185.3 48.5,185.9 46.5,186.1 44.5,186.2 39.9,186.0 38.2,186.1 36.9,186.3 35.5,186.6 33.9,187.3 32.4,188.0 28.9,189.9 27.2,190.7 25.5,191.4 22.5,192.5 21.3,193.0 20.1,193.6 19.2,194.4 19.2,174.3 41.2,174.2 82.9,174.2 82.9,174.3 83.0,205.3 82.9,259.3Z" fill="#80f0c8" fill-rule="evenodd" stroke="#000" stroke-width="0.7" stroke-opacity="1"/>
<path d="M82.9,235.3 82.2,234.5 81.3,233.6 78.9,231.7 77.9,230.8 76.9,229.6 76.3,228.6 75.9,227.6 75.7,227.0 74.7,222.3 74.3,221.0 74.0,220.0 72.9,217.6 70.9,213.9 69.9,211.9 69.0,210.0 68.2,208.0 67.6,205.6 67.3,204.3 66.8,201.0 66.6,200.0 66.3,199.3 65.8,198.3 65.0,197.3 61.3,193.6 60.4,192.6 59.7,191.6 59.1,190.6 58.6,189.6 58.3,188.6 57.5,186.1 57.2,185.3 56.9,184.6 56.5,184.2 56.2,183.9 55.5,183.6 54.9,183.4 53.9,183.3 52.5,183.5 48.5,184.6 46.5,184.9 44.5,185.0 39.9,185.0 38.5,185.1 37.2,185.3 35.5,185.7 33.9,186.3 32.3,187.0 28.5,188.8 26.2,189.7 24.9,190.1 23.5,190.3 20.2,190.6 19.2,190.7 19.2,174.3 40.5,174.2 82.9,174.2 82.9,174.3 82.9,201.6 82.9,235.3ZM61.2,259.3 33.9,259.4 19.2,259.4 19.1,259.3 19.1,233.0 19.2,216.9 20.2,218.3 21.5,219.7 23.1,221.0 26.2,223.0 27.9,224.2 29.5,225.8 31.2,227.8 36.5,235.3 38.0,237.6 38.7,239.0 39.3,240.3 41.1,245.0 41.6,246.3 42.5,247.9 43.5,249.0 44.5,249.8 45.9,250.6 47.5,251.4 52.3,253.3 53.7,254.0 55.2,254.7 57.6,256.3 61.4,259.3 61.2,259.3ZM82.9,259.3 82.5,259.3 82.9,258.8 82.9,259.3Z" fill="#80e8f0" fill-rule="evenodd" stroke="#000" stroke-width="0.7" stroke-opacity="1"/>
<path d="M82.9,229.8 80.9,228.6 79.9,227.9 78.9,226.9 78.2,225.8 77.5,224.3 76.4,221.3 75.7,219.6 74.6,217.6 71.5,212.4 70.6,210.6 69.9,208.9 69.3,207.3 68.8,205.6 68.4,204.0 67.9,201.0 67.7,200.0 67.4,199.3 66.8,198.3 66.0,197.3 62.1,193.6 61.0,192.3 60.3,191.3 59.7,190.0 59.2,188.6 59.0,187.3 58.7,184.6 58.5,183.6 58.2,182.8 57.9,182.4 57.5,182.0 56.9,181.7 56.2,181.4 55.5,181.4 54.5,181.4 52.9,181.8 48.5,183.3 46.5,183.7 44.2,183.9 39.5,184.0 37.2,184.3 35.9,184.6 34.2,185.1 32.5,185.8 29.2,187.2 27.2,187.9 26.2,188.1 25.2,188.2 24.2,188.2 23.5,188.1 22.9,187.9 22.2,187.6 21.5,187.0 21.2,186.7 20.9,186.3 20.6,185.6 20.4,185.0 20.3,184.3 20.2,182.6 20.4,181.0 20.7,179.3 21.7,175.6 21.9,174.3 41.2,174.2 82.9,174.2 82.9,174.3 82.9,201.6 82.9,229.8ZM55.2,259.3 33.9,259.4 19.2,259.4 19.1,259.3 19.2,220.6 20.2,221.5 21.3,222.3 22.4,223.0 25.5,224.7 27.2,225.7 28.9,227.2 30.5,229.0 35.9,236.2 37.5,238.6 38.2,240.0 39.0,241.6 40.5,246.0 41.2,247.5 41.9,248.8 42.9,250.0 43.9,251.0 44.9,251.7 49.4,254.3 51.3,255.6 52.6,256.6 53.6,257.6 55.3,259.3 55.2,259.3Z" fill="#70c8f0" fill-rule="evenodd" stroke="#000" stroke-width="0.7" stroke-opacity="1"/>
<path d="M82.9,223.7 81.9,223.1 81.2,222.7 80.5,222.1 79.5,221.1 78.2,219.5 76.5,217.4 73.9,213.7 72.9,212.1 71.9,210.3 71.2,208.9 70.5,207.3 70.1,206.0 69.7,204.6 68.9,200.6 68.6,199.6 68.3,199.0 67.6,198.0 67.0,197.3 66.0,196.3 63.6,194.3 62.5,193.2 61.5,192.0 60.9,191.0 60.4,190.0 60.2,189.3 60.0,188.3 59.9,187.3 60.0,185.6 60.4,182.6 60.4,181.6 60.2,181.0 60.1,180.6 59.5,180.0 59.0,179.6 58.5,179.4 57.5,179.1 56.5,179.0 55.2,179.2 53.5,179.7 49.2,181.6 48.2,182.0 46.9,182.4 45.8,182.6 44.5,182.8 39.5,183.0 37.2,183.3 35.9,183.6 34.2,184.1 30.2,185.5 28.9,186.0 27.5,186.2 26.9,186.3 26.2,186.2 25.5,186.1 24.9,185.8 24.3,185.3 24.1,185.0 23.8,184.3 23.6,183.6 23.5,182.3 23.8,180.6 24.0,179.6 24.4,178.6 25.4,176.6 26.9,174.3 82.9,174.3 82.9,201.6 82.9,223.7ZM50.5,259.3 33.9,259.4 19.2,259.3 19.2,223.9 20.9,224.8 24.5,226.2 26.2,227.1 27.2,227.7 28.2,228.5 29.9,230.2 35.2,236.9 36.2,238.3 37.1,239.6 37.8,241.0 38.4,242.3 40.6,248.3 41.2,249.5 41.9,250.6 42.5,251.4 43.5,252.3 46.5,254.6 48.0,256.0 49.5,257.6 50.6,259.3 50.5,259.3Z" fill="#50a8e8" fill-rule="evenodd" stroke="#000" stroke-width="0.7" stroke-opacity="1"/>
<path d="M82.9,217.9 81.9,217.7 80.9,217.4 79.9,217.0 78.9,216.4 77.9,215.6 76.9,214.7 75.2,212.8 74.2,211.5 73.4,210.3 72.5,208.7 71.9,207.2 71.4,206.0 71.0,204.6 70.0,200.3 69.6,199.3 69.2,198.6 68.8,198.0 67.8,197.0 64.5,194.4 63.4,193.3 62.2,192.0 61.4,190.6 61.0,189.6 60.8,188.3 60.8,187.0 61.0,185.6 61.5,184.1 62.2,182.9 63.2,181.5 64.6,180.0 65.1,179.3 65.3,179.0 65.2,178.6 65.1,178.3 64.7,178.0 63.9,177.5 62.7,177.0 60.5,176.2 59.5,176.0 58.5,175.8 57.5,175.8 56.9,175.9 55.9,176.1 54.5,176.7 53.2,177.4 51.0,179.0 49.3,180.0 48.0,180.6 46.5,181.2 45.5,181.4 44.1,181.6 39.5,181.9 37.2,182.2 34.9,182.7 30.5,184.0 29.5,184.2 28.5,184.2 27.5,184.0 26.9,183.6 26.4,183.0 26.3,182.6 26.2,182.0 26.2,181.3 26.3,180.6 26.7,179.3 27.3,178.0 28.2,176.6 29.2,175.4 30.3,174.3 82.9,174.3 82.9,217.9ZM47.2,259.3 33.9,259.3 19.2,259.3 19.2,227.3 22.5,227.8 23.9,228.2 25.5,228.8 26.9,229.6 27.9,230.3 29.2,231.6 34.2,237.2 35.2,238.4 36.1,239.6 36.9,240.8 37.5,242.0 38.4,244.3 40.1,249.3 40.5,250.3 41.1,251.3 41.5,252.0 42.2,252.9 44.9,255.6 45.7,256.6 46.6,258.0 47.1,259.0 47.2,259.3Z" fill="#4890f0" fill-rule="evenodd" stroke="#000" stroke-width="0.7" stroke-opacity="1"/>
<path d="M32.9,181.7 31.2,181.8 30.5,181.8 30.1,181.6 29.6,181.3 29.4,181.0 29.3,180.6 29.3,180.0 29.4,179.3 29.7,178.6 30.2,177.8 30.9,177.0 32.2,175.6 34.0,174.3 51.5,174.3 51.3,175.0 50.8,176.0 50.0,177.0 49.4,177.6 48.6,178.3 47.9,178.8 47.0,179.3 46.3,179.6 45.2,180.0 43.9,180.3 42.5,180.4 37.5,180.8 35.9,181.1 32.9,181.7ZM82.5,213.3 81.5,213.5 80.9,213.5 79.9,213.4 79.2,213.2 78.2,212.8 77.5,212.4 76.5,211.5 75.9,210.8 74.9,209.6 74.2,208.6 73.5,207.4 73.0,206.3 72.5,205.1 72.2,204.1 71.3,200.3 70.9,199.3 70.5,198.6 70.0,198.0 69.3,197.3 68.5,196.6 65.5,194.5 64.5,193.7 63.8,193.0 63.2,192.3 62.4,191.3 61.9,190.3 61.6,189.3 61.5,188.3 61.5,187.3 61.7,186.3 62.1,185.3 62.5,184.6 63.2,183.7 63.9,183.1 64.9,182.5 65.5,182.1 66.5,181.8 67.5,181.6 68.5,181.5 70.5,181.5 74.5,181.8 75.9,181.7 76.4,181.6 76.9,181.5 77.2,181.3 77.6,181.0 78.0,180.3 78.1,179.6 78.1,178.6 77.7,177.6 77.2,176.7 76.5,175.9 75.5,175.1 74.3,174.3 82.9,174.3 82.9,213.2 82.5,213.3ZM44.2,259.3 19.2,259.3 19.2,231.6 20.2,231.2 21.2,230.9 22.2,230.7 22.9,230.7 23.9,230.7 24.5,230.9 25.9,231.3 27.2,232.1 28.5,233.2 33.2,237.5 34.5,238.9 35.9,240.6 36.5,241.6 37.1,242.6 38.0,245.0 39.5,250.1 40.2,251.9 41.2,253.8 42.9,256.3 43.5,257.3 44.0,258.3 44.2,259.3Z" fill="#4078f0" fill-rule="evenodd" stroke="#000" stroke-width="0.7" stroke-opacity="1"/>
<path d="M43.2,178.3 41.9,178.5 40.5,178.6 38.5,178.6 37.2,178.5 36.1,178.3 35.6,178.0 35.5,177.6 35.7,177.3 35.9,177.0 36.2,176.6 37.0,176.0 38.7,175.0 40.2,174.3 46.0,174.3 46.4,174.6 46.5,175.0 46.6,175.3 46.6,176.0 46.3,176.6 45.6,177.3 45.1,177.6 44.4,178.0 43.2,178.3ZM80.9,209.7 80.2,209.8 79.5,209.9 78.5,209.7 77.5,209.2 76.5,208.3 75.9,207.6 75.2,206.7 74.3,205.0 73.7,203.3 72.8,200.0 72.4,199.0 72.0,198.3 71.3,197.6 70.4,197.0 66.9,194.8 65.5,193.9 64.1,192.6 63.6,192.0 63.1,191.3 62.6,190.3 62.3,189.3 62.2,188.6 62.2,188.0 62.4,187.0 62.7,186.0 63.2,185.2 63.9,184.5 64.9,183.7 65.5,183.4 66.5,183.1 67.5,182.9 68.5,182.8 69.5,182.8 70.9,182.9 71.9,183.1 73.2,183.4 75.2,184.1 76.2,184.6 77.3,185.3 78.2,186.0 78.9,186.6 79.4,187.3 80.1,188.3 80.7,189.3 81.9,191.8 82.9,193.4 82.9,208.4 81.9,209.2 80.9,209.7ZM40.9,259.3 26.3,259.3 25.5,258.5 24.8,257.6 23.8,256.0 23.4,255.0 23.0,254.0 22.6,252.3 22.4,250.0 22.3,247.6 22.4,243.0 22.3,239.0 22.3,237.6 22.5,236.6 22.7,236.0 23.1,235.3 23.5,234.9 24.0,234.6 24.5,234.5 25.5,234.4 26.5,234.6 27.9,235.2 30.5,236.8 32.5,238.3 34.2,239.7 34.9,240.5 35.5,241.4 36.1,242.3 36.7,243.3 37.2,244.6 37.7,246.0 38.1,247.6 39.3,252.3 40.7,257.0 40.9,258.3 40.9,259.3Z" fill="#3060f0" fill-rule="evenodd" stroke="#000" stroke-width="0.7" stroke-opacity="1"/>
<path d="M79.2,204.8 78.5,204.9 77.9,204.7 77.2,204.2 76.8,203.6 76.4,203.0 76.2,202.3 75.9,201.3 75.7,199.6 75.5,199.0 75.1,198.3 74.8,198.0 74.4,197.6 73.8,197.3 69.5,195.5 67.2,194.4 66.2,193.7 65.2,193.0 64.5,192.3 64.0,191.6 63.5,191.0 63.1,190.0 62.9,189.0 62.9,188.0 63.1,187.0 63.5,186.2 64.2,185.3 64.9,184.8 65.5,184.4 66.2,184.1 67.5,183.8 69.2,183.7 70.2,183.8 71.2,184.0 72.9,184.5 74.5,185.3 75.2,185.8 75.9,186.3 76.8,187.3 77.2,188.0 77.7,189.0 78.0,190.0 78.1,190.6 78.3,192.3 78.1,195.6 78.2,196.6 78.4,197.0 78.7,197.6 79.5,198.7 80.1,199.6 80.5,200.6 80.6,201.3 80.7,202.3 80.4,203.3 80.2,203.8 79.9,204.3 79.5,204.6 79.2,204.8ZM34.5,259.3 32.9,259.3 31.5,259.1 29.9,258.4 28.5,257.7 27.3,256.6 26.4,255.6 25.5,254.3 24.8,252.6 24.5,251.6 24.3,250.6 24.1,248.6 24.1,246.3 24.4,243.6 24.9,241.3 25.2,240.3 25.5,239.6 25.9,239.0 26.2,238.6 26.6,238.3 27.2,238.0 27.9,237.9 28.5,237.9 29.9,238.2 30.5,238.4 31.5,238.9 32.9,239.7 34.2,240.9 35.2,242.1 36.1,243.6 36.8,245.3 37.5,247.6 38.0,250.6 38.3,254.0 38.4,255.0 38.3,256.0 38.2,256.6 37.9,257.3 37.5,257.9 37.2,258.2 36.7,258.6 36.0,259.0 35.2,259.2 34.5,259.3Z" fill="#2040f8" fill-rule="evenodd" stroke="#000" stroke-width="0.7" stroke-opacity="1"/>
<path d="M72.9,195.3 71.9,195.3 70.5,195.1 69.5,194.8 68.2,194.2 67.2,193.7 66.2,193.1 65.3,192.3 64.7,191.6 64.2,191.0 63.9,190.3 63.6,189.3 63.5,188.6 63.6,188.0 63.9,187.1 64.2,186.5 64.9,185.8 65.9,185.1 66.5,184.9 67.2,184.7 68.5,184.5 69.9,184.6 71.5,185.0 72.9,185.5 74.1,186.3 75.2,187.3 75.8,188.3 76.1,189.0 76.3,189.6 76.5,190.3 76.5,191.0 76.4,191.6 76.3,192.3 75.9,193.5 75.5,194.0 75.2,194.4 74.9,194.6 74.2,195.0 73.5,195.2 72.9,195.3ZM34.2,257.0 33.2,257.2 31.9,257.1 30.5,256.8 29.2,256.1 28.2,255.3 27.2,254.2 26.4,253.0 25.9,251.6 25.4,250.0 25.3,248.3 25.3,246.3 25.6,244.3 26.1,242.6 26.8,241.3 27.5,240.4 27.9,240.2 28.5,239.9 29.5,239.7 30.2,239.7 30.9,239.8 31.5,240.1 32.2,240.4 33.2,241.1 34.2,242.0 35.2,243.3 35.9,244.5 36.4,246.0 36.9,248.0 37.2,250.0 37.2,252.0 37.1,253.6 36.9,254.3 36.7,255.0 36.2,255.7 35.7,256.3 35.2,256.6 34.2,257.0Z" fill="#1020ff" fill-rule="evenodd" stroke="#000" stroke-width="0.7" stroke-opacity="1"/>
<path d="M72.9,194.0 72.2,194.2 71.2,194.3 70.2,194.2 69.2,194.0 68.2,193.6 67.2,193.1 66.5,192.6 65.7,192.0 65.1,191.3 64.7,190.6 64.4,190.0 64.2,189.3 64.2,188.6 64.3,188.0 64.6,187.3 65.1,186.6 65.9,186.0 66.9,185.5 67.9,185.3 69.2,185.3 70.5,185.5 71.5,185.8 72.6,186.3 73.5,187.0 74.4,188.0 74.9,189.0 75.2,190.0 75.2,191.0 74.9,192.0 74.6,192.6 74.4,193.0 73.7,193.6 72.9,194.0ZM33.9,255.4 32.9,255.6 31.9,255.6 31.2,255.5 30.5,255.2 29.5,254.7 28.5,253.9 27.8,253.0 27.2,252.0 26.7,250.6 26.4,249.3 26.2,247.6 26.4,246.0 26.7,244.6 27.2,243.3 27.9,242.2 28.5,241.6 29.1,241.3 29.5,241.1 30.2,241.0 31.2,241.1 32.2,241.5 33.2,242.1 34.1,243.0 34.8,244.0 35.4,245.0 35.9,246.3 36.2,247.6 36.4,249.3 36.4,251.0 36.2,252.3 35.9,253.4 35.3,254.3 34.6,255.0 33.9,255.4Z" fill="#2010f0" fill-rule="evenodd" stroke="#000" stroke-width="0.7" stroke-opacity="1"/>
<path d="M71.5,193.3 70.9,193.4 70.2,193.4 69.5,193.3 68.5,193.1 67.9,192.8 67.0,192.3 66.5,191.9 65.9,191.3 65.5,190.8 65.2,190.2 65.0,189.6 64.9,189.0 65.0,188.3 65.1,188.0 65.5,187.3 65.9,187.0 66.5,186.5 67.5,186.1 68.5,186.0 69.5,186.0 70.5,186.2 71.5,186.6 72.5,187.3 73.2,188.0 73.6,188.6 74.0,189.6 74.0,190.6 73.9,191.3 73.6,192.0 73.0,192.6 72.2,193.1 71.5,193.3ZM33.2,254.1 32.5,254.2 31.5,254.2 30.5,253.9 29.9,253.5 29.2,253.0 28.4,252.0 27.8,251.0 27.5,250.0 27.2,248.6 27.2,247.3 27.4,246.0 27.6,245.0 28.1,244.0 28.6,243.3 28.9,243.0 29.4,242.6 30.2,242.3 30.9,242.2 31.9,242.4 32.5,242.7 33.3,243.3 33.9,244.0 34.5,244.9 35.1,246.0 35.4,247.0 35.6,248.0 35.7,249.3 35.6,250.6 35.4,251.6 34.9,252.6 34.5,253.2 33.9,253.7 33.2,254.1Z" fill="#4800c8" fill-rule="evenodd" stroke="#000" stroke-width="0.7" stroke-opacity="1"/>
<path d="M71.5,192.3 70.5,192.6 69.9,192.6 69.2,192.5 68.5,192.3 67.9,192.1 67.2,191.6 66.8,191.3 66.5,191.0 66.0,190.3 65.9,189.9 65.8,189.3 65.8,188.6 65.9,188.3 66.4,187.6 66.9,187.2 67.5,186.9 68.2,186.8 68.9,186.7 69.9,186.9 70.5,187.1 71.2,187.4 71.9,187.9 72.3,188.3 72.7,189.0 72.9,189.6 72.9,190.3 72.8,191.0 72.5,191.5 72.1,192.0 71.5,192.3ZM32.9,252.7 32.2,252.9 31.5,252.8 30.9,252.7 30.2,252.3 29.5,251.7 29.0,251.0 28.5,250.1 28.3,249.3 28.1,248.3 28.1,247.3 28.3,246.3 28.5,245.6 28.9,244.9 29.3,244.3 29.9,243.8 30.5,243.5 31.2,243.5 31.9,243.6 32.5,243.9 32.9,244.1 33.4,244.6 33.9,245.3 34.3,246.0 34.6,247.0 34.8,248.0 34.9,249.0 34.8,250.0 34.6,250.6 34.4,251.3 33.9,252.0 33.5,252.4 32.9,252.7Z" fill="#5800a8" fill-rule="evenodd" stroke="#000" stroke-width="0.7" stroke-opacity="1"/>
<path d="M70.2,191.6 69.2,191.6 68.5,191.5 67.9,191.1 67.3,190.6 66.9,190.0 66.7,189.3 66.8,189.0 66.9,188.6 67.2,188.2 67.6,188.0 68.2,187.7 68.5,187.6 69.2,187.6 69.9,187.8 70.3,188.0 70.8,188.3 71.2,188.6 71.5,189.2 71.7,189.6 71.7,190.3 71.6,190.6 71.4,191.0 71.0,191.3 70.2,191.6ZM32.2,251.4 31.9,251.4 31.2,251.3 30.6,251.0 30.2,250.6 29.9,250.2 29.5,249.6 29.2,248.6 29.2,248.0 29.2,247.3 29.5,246.3 29.8,245.6 30.1,245.3 30.5,245.0 30.9,244.9 31.2,244.8 31.9,244.9 32.6,245.3 32.9,245.6 33.4,246.3 33.7,247.0 33.9,247.6 33.9,248.3 33.9,249.0 33.8,249.6 33.6,250.3 33.2,250.8 32.9,251.1 32.2,251.4Z" fill="#600090" fill-rule="evenodd" stroke="#000" stroke-width="0.7" stroke-opacity="1"/>
<path d="M69.2,190.0 68.9,189.8 68.7,189.6 68.9,189.4 69.2,189.3 69.6,189.6 69.5,189.8 69.3,190.0 69.2,190.0ZM31.9,249.1 31.5,249.1 31.2,249.0 31.0,248.6 30.8,248.3 30.8,248.0 30.9,247.6 31.2,247.1 31.5,247.0 31.9,247.1 32.1,247.3 32.3,247.6 32.4,248.0 32.4,248.3 32.3,248.6 32.2,248.9 31.9,249.1Z" fill="#500060" fill-rule="evenodd" stroke="#000" stroke-width="0.7" stroke-opacity="1"/>
</g>
<path d="M33.10,179.80 C34.70,177.93 36.17,177.48 37.70,176.90 C39.23,176.32 40.00,176.33 42.30,176.30 C44.60,176.27 48.80,176.33 51.50,176.70 C54.20,177.07 56.18,177.98 58.50,178.50 C60.82,179.02 62.90,179.30 65.40,179.80 C67.90,180.30 71.58,180.63 73.50,181.50 C75.42,182.37 75.95,183.65 76.90,185.00 C77.85,186.35 78.60,187.93 79.20,189.60 C79.80,191.27 80.22,193.10 80.50,195.00 C80.78,196.90 80.88,199.17 80.90,201.00 C80.92,202.83 80.72,204.50 80.60,206.00 C80.48,207.50 80.43,208.33 80.20,210.00 C79.97,211.67 79.58,214.13 79.20,216.00 C78.82,217.87 78.67,218.48 77.90,221.20 C77.13,223.92 76.08,228.58 74.60,232.30 C73.12,236.02 71.05,240.13 69.00,243.50 C66.95,246.87 64.53,250.33 62.30,252.50 C60.07,254.67 57.98,255.67 55.60,256.50 C53.22,257.33 50.52,257.42 48.00,257.50 C45.48,257.58 42.75,257.42 40.50,257.00 C38.25,256.58 36.22,256.00 34.50,255.00 C32.78,254.00 31.48,253.00 30.20,251.00 C28.92,249.00 27.83,246.10 26.80,243.00 C25.77,239.90 24.77,235.73 24.00,232.40 C23.23,229.07 22.67,225.90 22.20,223.00 C21.73,220.10 21.17,218.10 21.20,215.00 C21.23,211.90 21.78,207.52 22.40,204.40 C23.02,201.28 23.95,199.02 24.90,196.30 C25.85,193.58 26.73,190.85 28.10,188.10 C29.47,185.35 31.50,181.67 33.10,179.80 Z" fill="none" stroke="#000" stroke-width="0.9"/>
<clipPath id="cp2"><path d="M129.80,175.20 C131.55,173.82 133.88,174.37 136.00,174.20 C138.12,174.03 140.33,173.98 142.50,174.20 C144.67,174.42 147.17,175.10 149.00,175.50 C150.83,175.90 151.80,175.90 153.50,176.60 C155.20,177.30 156.75,178.43 159.20,179.70 C161.65,180.97 165.57,182.52 168.20,184.20 C170.83,185.88 173.40,187.92 175.00,189.80 C176.60,191.68 177.23,193.60 177.80,195.50 C178.37,197.40 178.30,198.02 178.40,201.20 C178.50,204.38 178.78,210.10 178.40,214.60 C178.02,219.10 177.42,223.67 176.10,228.20 C174.78,232.73 172.95,237.67 170.50,241.80 C168.05,245.93 164.82,250.42 161.40,253.00 C157.98,255.58 153.07,256.57 150.00,257.30 C146.93,258.03 145.23,257.55 143.00,257.40 C140.77,257.25 139.17,257.13 136.60,256.40 C134.03,255.67 130.05,255.07 127.60,253.00 C125.15,250.93 123.42,247.38 121.90,244.00 C120.38,240.62 119.12,236.53 118.50,232.70 C117.88,228.87 118.20,224.78 118.20,221.00 C118.20,217.22 118.20,213.50 118.50,210.00 C118.80,206.50 119.43,203.00 120.00,200.00 C120.57,197.00 120.98,194.92 121.90,192.00 C122.82,189.08 124.18,185.30 125.50,182.50 C126.82,179.70 128.05,176.58 129.80,175.20 Z"/></clipPath>
<g clip-path="url(#cp2)">
<rect x="116.2" y="172.2" width="64.2" height="87.2" fill="#e00000"/>
<path d="M180.2,259.5 116.2,259.5 115.9,259.2 115.9,172.2 116.2,171.9 180.2,171.9 180.5,172.2 180.5,259.2 180.2,259.5Z" fill="#e83010" fill-rule="evenodd" stroke="#000" stroke-width="0.7" stroke-opacity="1"/>
<path d="M180.2,259.5 116.2,259.5 115.9,259.2 115.9,172.2 116.2,171.9 180.2,171.9 180.5,172.2 180.5,259.2 180.2,259.5Z" fill="#e86020" fill-rule="evenodd" stroke="#000" stroke-width="0.7" stroke-opacity="1"/>
<path d="M180.2,259.4 116.2,259.5 115.9,259.2 115.9,172.2 116.2,171.9 180.2,171.9 180.5,172.2 180.4,259.2 180.2,259.4ZM152.2,220.2 152.5,220.1 152.9,220.0 153.2,219.7 153.5,219.2 153.7,218.5 153.8,217.9 153.6,216.5 153.7,216.2 153.7,215.5 153.4,215.2 153.3,214.5 152.8,213.9 151.9,212.4 150.9,211.2 150.2,210.7 149.5,210.4 148.9,210.4 148.5,210.5 148.2,210.7 147.9,211.2 147.6,211.9 147.6,212.5 147.7,213.9 147.9,214.9 148.2,215.8 148.3,216.5 148.6,216.9 148.6,217.2 149.2,217.9 149.9,218.8 150.5,219.5 151.2,219.9 151.5,220.1 152.2,220.2Z" fill="#f08020" fill-rule="evenodd" stroke="#000" stroke-width="0.7" stroke-opacity="1"/>
<path d="M180.2,259.4 116.2,259.5 115.9,259.2 116.0,172.2 116.2,172.0 180.2,172.0 180.4,172.2 180.4,259.2 180.2,259.4ZM145.7,202.2 145.9,202.2 146.2,201.9 146.4,201.5 146.5,201.2 146.5,200.2 146.4,199.5 146.2,198.9 145.5,197.7 144.9,196.9 144.2,196.4 143.9,196.2 143.5,196.2 143.2,196.3 142.9,196.5 142.7,196.9 142.5,197.5 142.6,198.5 142.9,199.5 143.4,200.5 143.9,201.2 144.2,201.6 144.9,202.1 145.2,202.2 145.7,202.2ZM153.6,222.9 154.2,222.4 154.5,222.0 154.8,221.5 155.2,220.5 155.3,219.5 155.3,218.2 155.1,216.9 154.8,215.5 154.2,213.9 153.5,212.4 152.6,210.9 151.9,209.8 150.9,208.7 149.9,207.9 148.9,207.5 148.2,207.4 147.9,207.4 147.2,207.5 146.9,207.7 146.5,208.0 146.2,208.5 146.0,208.9 145.7,209.9 145.6,210.9 145.6,212.2 145.9,213.9 146.4,215.5 147.0,217.2 147.8,218.9 148.5,220.2 149.3,221.2 150.2,222.1 151.2,222.7 151.9,223.0 152.5,223.1 152.9,223.1 153.6,222.9Z" fill="#f0a020" fill-rule="evenodd" stroke="#000" stroke-width="0.7" stroke-opacity="1"/>
<path d="M180.2,259.4 116.2,259.4 116.0,259.2 116.0,172.2 116.2,172.0 180.2,172.0 180.4,172.2 180.4,259.2 180.2,259.4ZM153.4,225.9 153.9,225.8 154.5,225.5 155.2,224.9 155.5,224.6 156.2,223.5 156.5,222.6 156.7,221.9 156.9,220.2 156.8,218.2 156.4,216.2 155.8,214.2 155.0,212.2 154.0,210.2 152.9,208.5 151.9,207.2 150.9,206.2 150.2,205.6 149.5,205.2 148.5,204.7 147.9,204.5 147.2,204.4 146.9,204.2 147.2,204.0 147.5,203.6 147.9,202.9 148.0,201.9 148.0,200.9 147.8,199.5 147.4,198.2 146.9,197.0 146.2,195.8 145.2,194.4 144.5,193.8 143.9,193.3 143.2,193.0 142.9,192.9 142.2,192.9 141.9,193.0 141.5,193.2 141.2,193.5 140.9,193.9 140.7,194.5 140.5,195.2 140.5,196.2 140.6,197.2 140.9,198.2 141.2,199.2 141.6,200.2 142.2,201.2 142.9,202.2 143.5,203.0 144.2,203.6 144.9,204.0 145.5,204.3 146.2,204.5 145.5,204.8 145.2,205.1 144.5,205.9 144.2,206.5 144.0,207.2 143.8,207.9 143.7,208.9 143.6,210.5 143.9,212.5 144.4,214.9 145.1,217.2 145.9,219.2 146.9,221.1 147.9,222.6 148.9,223.9 150.0,224.9 151.2,225.6 152.2,225.9 152.9,225.9 153.4,225.9Z" fill="#f0c020" fill-rule="evenodd" stroke="#000" stroke-width="0.7" stroke-opacity="1"/>
<path d="M180.2,259.4 116.2,259.4 116.0,259.2 116.0,172.2 116.2,172.0 180.2,172.0 180.4,172.2 180.4,259.2 180.2,259.4ZM154.1,228.5 154.9,228.2 155.5,227.9 155.9,227.5 156.5,226.9 157.0,226.2 157.5,225.2 157.9,224.2 158.1,223.2 158.4,221.2 158.4,220.2 158.3,218.9 158.0,216.5 157.2,213.9 156.4,211.9 155.7,210.2 154.8,208.5 153.9,207.0 152.9,205.6 151.9,204.4 150.9,203.5 149.7,202.5 149.6,202.2 149.5,201.2 149.3,199.9 148.7,197.5 148.2,196.2 147.7,195.2 147.2,194.2 146.5,193.1 145.9,192.2 145.2,191.5 144.5,190.9 143.5,190.2 142.9,189.9 142.2,189.7 141.5,189.7 140.9,189.8 140.2,190.1 139.7,190.5 139.2,191.1 138.9,191.7 138.6,192.5 138.5,193.2 138.4,194.2 138.5,195.2 138.6,196.2 138.9,197.2 139.2,198.2 139.7,199.5 140.7,201.5 142.3,203.9 141.9,205.2 141.6,206.5 141.6,208.2 141.6,209.9 141.8,211.5 142.2,213.5 142.9,215.9 143.5,218.0 144.5,220.6 145.6,222.9 146.9,224.8 148.2,226.4 148.9,227.0 149.6,227.5 150.5,228.1 151.2,228.4 151.9,228.6 152.5,228.7 153.2,228.7 154.1,228.5Z" fill="#f0e030" fill-rule="evenodd" stroke="#000" stroke-width="0.7" stroke-opacity="1"/>
<path d="M180.2,259.4 116.2,259.4 116.0,259.2 116.0,172.2 116.2,172.0 180.2,172.0 180.4,172.2 180.4,259.2 180.2,259.4ZM154.6,231.2 155.5,230.8 156.2,230.4 156.9,229.8 157.5,229.0 158.1,228.2 158.6,227.2 159.0,226.2 159.4,224.9 159.7,223.5 159.8,222.2 159.9,220.9 159.9,219.5 159.8,218.2 159.5,216.5 159.2,215.2 158.7,213.5 158.1,211.9 157.3,209.9 156.3,207.9 155.4,206.2 154.3,204.5 153.2,203.0 152.2,201.8 151.0,200.5 150.3,197.5 149.5,195.2 148.5,192.9 147.9,191.8 147.2,190.8 146.5,189.9 145.5,188.8 144.5,188.0 143.5,187.4 142.9,187.1 141.9,187.0 140.9,187.0 140.0,187.2 139.2,187.5 138.3,188.2 137.6,188.9 137.2,189.5 136.8,190.2 136.5,191.2 136.4,192.2 136.4,193.5 136.6,195.5 136.9,196.5 137.3,197.9 138.3,200.2 139.5,202.5 139.3,204.2 139.2,205.9 139.3,207.5 139.5,209.5 139.8,211.5 140.4,213.9 141.1,216.5 141.8,218.9 143.0,221.9 144.2,224.5 144.9,225.6 145.7,226.9 146.5,227.9 147.4,228.9 148.2,229.6 149.2,230.3 149.9,230.7 150.9,231.1 151.9,231.4 152.9,231.5 153.9,231.4 154.6,231.2Z" fill="#e0e030" fill-rule="evenodd" stroke="#000" stroke-width="0.7" stroke-opacity="1"/>
<path d="M180.2,259.3 116.2,259.4 116.0,259.2 116.1,172.2 116.2,172.1 142.9,172.1 180.2,172.0 180.4,172.2 180.3,259.2 180.2,259.3ZM153.6,234.2 154.9,233.9 155.7,233.5 156.5,233.1 157.5,232.3 158.5,231.2 159.2,230.2 159.7,229.2 160.2,227.9 160.7,226.5 161.0,224.9 161.3,223.2 161.4,221.2 161.4,219.2 161.3,217.5 161.0,215.9 160.6,214.2 160.1,212.5 159.5,210.9 158.7,208.9 157.9,207.1 156.5,204.5 155.2,202.3 153.9,200.4 152.2,198.2 152.0,197.9 151.2,194.9 150.4,192.9 149.5,190.9 148.2,188.8 147.3,187.5 146.3,186.5 145.5,185.9 144.5,185.2 143.5,184.8 142.5,184.6 141.5,184.6 140.2,184.8 139.0,185.2 137.9,185.8 136.9,186.5 136.1,187.2 135.3,188.2 134.9,189.0 134.5,190.2 134.3,191.2 134.3,192.2 134.3,193.2 134.4,194.2 134.7,195.5 135.4,197.9 136.5,200.5 136.3,203.2 136.5,205.9 136.9,208.5 137.6,211.5 139.7,218.5 140.5,220.9 141.2,222.8 142.0,224.5 142.9,226.4 143.9,228.1 144.8,229.5 145.9,230.9 146.8,231.9 147.9,232.7 148.9,233.3 149.9,233.7 151.2,234.1 152.5,234.3 153.6,234.2Z" fill="#c8e030" fill-rule="evenodd" stroke="#000" stroke-width="0.7" stroke-opacity="1"/>
<path d="M180.2,259.3 116.2,259.4 116.0,259.2 116.1,172.2 116.2,172.1 142.9,172.1 180.2,172.0 180.4,172.2 180.3,259.2 180.2,259.3ZM154.3,236.9 155.5,236.5 156.7,235.9 157.9,235.1 158.8,234.2 159.5,233.3 160.2,232.2 160.9,230.9 161.5,229.3 162.1,227.5 162.5,225.5 162.8,223.5 163.0,221.2 163.0,219.2 162.9,217.2 162.6,215.2 162.3,213.5 161.8,211.9 161.1,209.9 160.1,207.5 159.0,205.2 157.7,202.5 156.2,199.9 154.5,197.1 153.1,194.9 152.9,194.4 152.1,192.2 151.4,190.5 150.4,188.5 149.4,186.9 148.4,185.5 147.4,184.5 146.2,183.5 145.2,183.0 144.2,182.6 142.9,182.4 141.9,182.4 140.5,182.6 139.2,183.1 137.9,183.7 136.4,184.5 135.0,185.5 133.9,186.5 133.1,187.5 132.6,188.5 132.2,189.5 132.0,190.9 132.1,192.5 132.5,194.9 133.3,197.5 133.1,200.9 133.1,203.5 133.4,205.9 133.8,207.9 134.5,210.2 136.5,215.5 138.6,221.5 139.8,224.5 140.9,227.0 142.2,229.9 143.2,231.7 144.1,233.2 144.9,234.2 146.0,235.2 147.2,236.0 148.5,236.6 149.9,236.9 151.5,237.1 152.9,237.1 154.3,236.9Z" fill="#b0e030" fill-rule="evenodd" stroke="#000" stroke-width="0.7" stroke-opacity="1"/>
<path d="M180.2,259.3 120.2,259.4 116.2,259.4 116.0,259.2 116.1,172.2 116.2,172.1 142.9,172.1 180.2,172.1 180.3,172.2 180.3,259.2 180.2,259.3ZM153.4,239.9 154.9,239.5 156.5,238.8 157.9,238.1 158.9,237.3 159.9,236.4 160.8,235.2 161.7,233.9 162.3,232.5 163.0,230.5 163.6,228.2 164.1,225.5 164.4,222.9 164.6,220.2 164.7,217.9 164.6,215.9 164.3,213.9 163.8,211.9 163.1,209.9 162.0,207.2 160.5,203.9 155.5,193.6 154.5,191.8 153.5,190.2 152.2,187.5 151.0,185.5 150.1,184.2 148.9,182.9 147.7,181.9 146.5,181.1 145.4,180.5 144.2,180.2 143.2,180.1 141.9,180.3 140.5,180.6 138.9,181.3 136.5,182.5 134.2,183.9 132.7,184.9 131.6,185.9 130.7,186.9 130.1,187.9 129.6,189.2 129.5,189.9 129.5,190.9 129.5,191.9 129.8,193.5 129.6,195.5 129.5,197.9 129.6,204.2 129.7,205.5 129.9,206.9 130.4,208.5 130.9,209.9 133.7,214.9 135.1,217.9 139.4,228.9 141.5,234.9 142.0,235.9 142.6,236.9 143.2,237.7 144.2,238.5 145.4,239.2 146.9,239.7 148.5,240.0 150.2,240.2 151.9,240.1 153.4,239.9Z" fill="#a0e030" fill-rule="evenodd" stroke="#000" stroke-width="0.7" stroke-opacity="1"/>
<path d="M180.2,259.3 122.5,259.3 116.2,259.3 116.1,259.2 116.1,172.2 116.2,172.1 142.9,172.2 180.2,172.1 180.3,172.2 180.3,259.2 180.2,259.3ZM151.6,243.2 153.5,242.8 155.5,242.1 157.5,241.3 159.2,240.3 160.5,239.4 161.5,238.4 162.4,237.2 163.2,235.9 163.9,234.2 164.5,232.2 165.1,229.9 165.6,226.9 166.1,222.5 166.5,218.9 166.5,216.2 166.4,214.2 166.2,213.2 165.9,211.9 165.0,209.2 163.9,206.9 161.0,200.5 159.8,197.9 158.7,195.2 157.2,191.0 156.6,189.5 155.9,188.2 155.3,187.2 154.3,185.9 152.9,184.3 151.9,183.0 150.9,181.9 149.9,180.8 148.5,179.7 147.2,178.8 146.2,178.4 145.5,178.1 144.9,178.0 143.9,177.8 142.5,177.9 141.2,178.2 139.5,178.9 134.9,181.5 130.5,183.8 129.5,184.4 128.9,184.9 128.2,185.6 127.6,186.5 127.1,187.5 126.8,188.5 126.2,189.7 125.8,190.5 125.4,191.9 125.2,193.2 125.2,194.2 125.2,195.5 125.7,199.5 125.8,201.2 125.8,202.9 125.8,206.2 125.9,207.5 126.0,208.5 126.3,209.2 126.9,210.5 127.9,211.9 130.2,214.5 131.5,216.2 132.5,217.9 133.7,220.2 135.9,225.2 137.4,229.2 138.1,231.5 139.2,235.9 139.7,237.5 140.3,238.9 141.1,240.2 141.9,241.2 142.9,242.0 143.9,242.6 144.9,242.9 146.5,243.3 148.2,243.4 149.9,243.4 151.6,243.2Z" fill="#90e030" fill-rule="evenodd" stroke="#000" stroke-width="0.7" stroke-opacity="1"/>
<path d="M180.2,259.3 161.5,259.2 123.5,259.3 116.2,259.3 116.1,259.2 116.2,209.2 116.1,172.2 116.2,172.1 142.9,172.2 180.2,172.1 180.3,172.2 180.3,259.2 180.2,259.3ZM151.1,246.5 152.9,246.2 154.5,245.7 159.7,243.9 161.5,243.1 162.5,242.5 163.5,241.7 164.3,240.9 164.9,239.9 165.5,238.5 166.0,236.9 166.3,235.2 166.7,232.9 167.7,224.2 168.5,217.5 168.6,215.5 168.6,213.9 168.4,212.9 168.1,211.9 167.4,209.9 166.5,207.9 163.1,201.2 162.1,199.2 161.3,197.2 160.7,195.5 160.2,193.9 159.0,188.9 158.6,187.5 157.9,185.9 157.2,184.5 156.1,183.2 154.5,181.7 153.2,180.5 151.5,179.4 149.9,178.0 148.5,177.0 146.9,176.1 145.5,175.6 144.5,175.4 143.9,175.3 142.5,175.3 141.2,175.7 139.9,176.3 135.8,178.9 133.9,179.9 132.2,180.7 128.8,181.9 127.4,182.5 126.9,182.9 126.1,183.5 125.6,184.2 125.2,184.8 124.2,185.8 123.5,186.7 122.8,188.2 122.2,189.9 121.9,191.5 121.7,193.2 121.7,195.5 122.2,199.9 122.4,201.5 122.3,203.5 122.0,207.2 122.1,208.9 122.3,209.9 122.6,210.9 123.1,211.9 123.6,212.5 124.8,213.9 127.9,216.4 129.3,217.9 130.2,218.9 130.9,219.8 132.2,222.1 134.1,225.9 134.9,227.9 135.5,229.5 136.3,232.2 137.5,237.2 138.2,239.2 139.2,241.4 139.9,242.5 140.5,243.4 141.5,244.5 142.4,245.2 143.5,245.8 144.5,246.2 146.2,246.5 147.9,246.7 149.5,246.7 151.1,246.5Z" fill="#80e030" fill-rule="evenodd" stroke="#000" stroke-width="0.7" stroke-opacity="1"/>
<path d="M180.2,259.2 161.5,259.2 124.5,259.3 116.2,259.3 116.1,259.2 116.2,209.2 116.2,172.2 116.2,172.2 141.5,172.2 140.2,172.5 139.5,172.7 138.9,173.1 137.9,173.9 135.2,176.3 134.2,177.0 133.2,177.6 132.2,178.0 131.2,178.3 127.2,179.1 126.2,179.4 125.5,179.8 124.9,180.3 123.9,181.3 123.2,181.7 122.5,182.3 121.9,183.1 121.2,184.2 120.4,185.9 119.7,188.2 119.2,190.5 118.9,192.9 118.9,195.5 119.4,199.9 119.5,201.9 119.4,203.5 119.1,206.9 119.1,208.5 119.2,210.2 119.6,211.5 119.9,212.5 120.5,213.8 121.2,214.8 121.9,215.6 123.2,216.9 126.5,219.3 128.2,220.7 129.0,221.5 129.8,222.5 131.2,224.6 132.8,227.5 133.9,230.2 134.7,232.5 136.2,238.2 136.8,239.9 137.5,241.5 138.5,243.6 139.5,245.4 140.4,246.5 141.2,247.4 142.2,248.2 143.2,248.7 144.5,249.1 146.2,249.5 149.2,249.8 151.5,250.1 153.5,250.1 156.9,250.0 157.9,250.0 158.5,250.2 159.3,250.5 160.1,251.2 160.7,251.9 162.1,253.9 163.2,254.9 163.9,255.3 164.9,255.7 165.5,255.9 166.5,256.0 167.9,255.9 169.2,255.4 170.2,254.8 171.3,253.9 172.2,252.7 172.8,251.5 173.3,250.2 173.6,248.5 173.6,246.9 173.4,245.9 173.2,244.9 172.7,243.2 171.2,239.8 170.5,237.9 170.0,235.5 169.7,232.9 169.5,230.9 169.5,228.9 169.6,225.2 169.9,222.5 170.7,217.5 171.0,215.5 170.9,213.9 170.6,212.2 170.2,210.9 169.6,209.5 165.1,201.9 163.7,199.2 162.8,197.2 162.1,195.2 161.6,193.2 161.3,191.2 160.7,187.2 160.4,185.5 159.8,183.9 159.3,182.9 158.9,182.2 157.8,180.9 156.4,179.5 154.5,178.1 152.2,176.5 150.9,175.7 149.5,175.0 147.9,173.9 146.5,173.3 145.5,172.8 144.5,172.5 143.5,172.3 142.8,172.2 176.9,172.1 180.2,172.1 180.3,172.2 180.2,259.2Z" fill="#70e850" fill-rule="evenodd" stroke="#000" stroke-width="0.7" stroke-opacity="1"/>
<path d="M156.9,259.2 125.5,259.3 116.2,259.3 116.1,259.2 116.2,172.2 126.4,172.2 124.5,174.1 123.2,175.8 122.2,176.5 121.2,177.4 120.5,178.2 119.9,179.2 119.0,180.9 118.2,182.9 117.6,185.2 117.0,187.5 116.6,190.5 116.4,193.2 116.4,195.5 116.8,199.9 116.9,201.5 116.8,203.2 116.6,206.9 116.6,208.5 116.7,210.2 117.0,211.9 117.5,213.5 118.2,215.2 118.7,216.2 119.3,217.2 119.9,218.0 120.6,218.9 121.4,219.5 122.2,220.2 125.5,222.2 127.2,223.4 128.2,224.3 128.9,225.1 129.8,226.2 130.5,227.4 131.6,229.2 132.7,231.5 133.4,233.5 135.2,239.2 136.9,243.3 137.9,245.5 138.9,247.6 139.5,248.7 140.2,249.5 141.2,250.5 141.9,250.9 142.5,251.3 143.9,251.7 147.2,252.5 148.6,252.9 150.2,253.5 151.5,254.2 152.6,254.9 153.8,255.9 157.0,259.2 156.9,259.2ZM180.2,259.2 176.1,259.2 177.2,257.9 178.0,256.5 178.6,255.2 179.3,253.5 179.7,251.9 180.0,250.2 180.1,248.5 180.1,246.5 179.9,244.9 179.6,243.2 179.2,241.7 178.6,240.2 178.0,238.9 177.2,237.5 174.9,234.1 173.9,232.4 173.0,230.5 172.5,228.5 172.2,227.2 172.1,225.9 172.1,224.5 172.2,223.2 172.5,220.9 173.5,216.5 173.6,214.9 173.6,213.2 173.2,211.9 172.7,210.5 171.9,209.2 171.0,207.9 168.2,204.1 166.3,201.2 165.0,198.9 164.1,196.9 163.3,194.5 162.8,192.2 162.6,190.2 162.4,185.9 162.2,184.2 161.8,182.5 161.4,181.5 161.0,180.9 160.4,179.9 159.5,178.9 158.6,177.9 157.5,176.9 155.9,175.6 154.2,174.4 152.5,173.3 150.8,172.2 176.9,172.1 180.2,172.1 180.3,172.2 180.2,259.2Z" fill="#80f0a0" fill-rule="evenodd" stroke="#000" stroke-width="0.7" stroke-opacity="1"/>
<path d="M116.2,176.8 116.2,172.2 118.1,172.2 117.0,174.5 116.2,176.8ZM180.2,230.7 177.9,228.3 177.0,227.2 176.6,226.5 176.2,225.9 175.8,224.5 175.7,223.2 175.8,221.5 176.0,220.2 176.8,216.9 177.0,215.2 177.0,214.2 176.9,213.2 176.7,212.5 176.4,211.5 175.7,210.2 174.5,208.5 173.3,207.2 170.2,203.9 168.2,201.5 166.9,199.6 165.9,197.9 165.3,196.5 164.8,195.2 164.4,193.9 164.2,192.5 164.0,191.2 164.0,189.9 164.1,185.2 164.1,183.5 163.9,181.9 163.4,180.2 163.0,179.2 162.5,178.4 161.9,177.4 161.1,176.5 159.2,174.6 156.4,172.2 176.9,172.1 180.2,172.1 180.3,172.2 180.2,230.7ZM150.9,259.2 125.5,259.3 116.2,259.3 116.1,259.2 116.2,217.0 116.9,218.5 117.5,219.5 118.2,220.5 118.9,221.2 119.6,221.9 120.6,222.5 124.5,224.6 126.2,225.7 127.2,226.5 127.9,227.2 128.8,228.2 129.5,229.2 130.5,230.9 131.5,232.9 137.9,249.1 138.7,250.9 139.5,252.1 140.5,253.1 141.2,253.5 141.9,253.9 142.9,254.3 146.2,255.4 147.2,255.8 147.9,256.2 148.8,256.9 149.5,257.5 150.9,259.2 150.9,259.2Z" fill="#80f0c8" fill-rule="evenodd" stroke="#000" stroke-width="0.7" stroke-opacity="1"/>
<path d="M180.2,210.0 179.7,209.2 178.9,208.2 177.4,206.9 176.1,205.9 172.2,203.2 170.2,201.5 169.2,200.4 168.2,199.2 167.5,198.2 166.8,196.9 166.2,195.5 165.7,194.2 165.5,192.9 165.3,191.2 165.3,189.9 165.4,188.5 165.9,184.2 166.1,182.5 166.1,180.9 165.8,179.2 165.3,177.5 164.5,175.9 163.2,174.0 161.6,172.2 180.2,172.2 180.2,210.0ZM144.5,259.2 125.5,259.3 116.2,259.3 116.1,259.2 116.2,222.6 117.2,223.5 118.6,224.5 120.0,225.2 123.5,226.8 125.2,227.7 126.2,228.5 126.9,229.1 128.2,230.6 129.3,232.2 130.5,234.3 131.5,236.5 133.5,241.0 134.6,243.5 135.3,245.5 137.2,251.7 137.7,252.9 138.2,253.9 139.2,255.4 140.2,256.4 141.2,257.1 143.6,258.5 144.6,259.2 144.5,259.2Z" fill="#80e8f0" fill-rule="evenodd" stroke="#000" stroke-width="0.7" stroke-opacity="1"/>
<path d="M180.2,201.9 179.2,201.8 176.9,201.8 175.5,201.7 173.9,201.3 172.5,200.8 171.5,200.2 170.9,199.7 169.5,198.5 168.5,197.2 167.9,196.2 167.5,195.5 167.0,194.2 166.7,192.5 166.6,191.2 166.6,189.5 166.8,188.2 167.2,186.5 168.7,180.9 168.9,179.5 169.0,178.2 168.8,176.5 168.5,175.2 167.9,173.8 167.0,172.2 180.2,172.2 180.2,201.9ZM137.9,259.2 125.5,259.3 116.2,259.2 116.2,226.5 117.9,227.3 122.2,228.8 123.2,229.3 124.3,229.9 125.5,230.8 126.5,231.7 127.9,233.2 128.9,234.6 130.2,236.8 131.5,239.3 132.9,242.1 133.9,244.5 134.4,246.2 134.9,247.9 136.0,253.2 136.4,254.9 136.8,256.2 137.2,257.3 138.1,259.2 137.9,259.2Z" fill="#70c8f0" fill-rule="evenodd" stroke="#000" stroke-width="0.7" stroke-opacity="1"/>
<path d="M175.5,198.2 174.9,198.4 174.2,198.5 173.2,198.4 172.5,198.3 171.5,197.8 170.9,197.4 170.2,196.8 169.6,196.2 169.2,195.5 168.6,194.5 168.4,193.9 168.1,192.9 168.0,191.2 168.0,190.2 168.1,189.2 168.5,187.9 168.9,186.8 169.5,185.4 170.2,184.2 171.5,182.4 174.5,179.2 174.9,178.5 175.2,177.9 175.4,177.2 175.5,176.5 175.5,175.2 175.2,173.9 174.5,172.2 180.2,172.2 180.2,194.4 178.8,195.9 177.8,196.9 176.5,197.7 175.5,198.2ZM134.5,259.2 116.2,259.2 116.2,230.7 119.5,231.2 121.2,231.5 122.9,232.1 124.2,232.8 125.2,233.5 125.9,234.0 127.2,235.3 128.5,236.9 129.9,238.8 131.2,241.1 132.2,243.2 133.1,245.5 133.7,247.5 134.1,249.9 134.4,252.9 134.8,259.2 134.5,259.2Z" fill="#50a8e8" fill-rule="evenodd" stroke="#000" stroke-width="0.7" stroke-opacity="1"/>
<path d="M173.5,195.5 172.9,195.6 172.2,195.4 171.5,195.1 170.9,194.5 170.4,193.9 170.0,192.9 169.8,191.9 169.7,190.9 169.9,189.9 170.2,188.9 170.6,188.2 171.2,187.3 171.9,186.7 172.5,186.2 173.2,186.0 174.2,185.8 174.9,186.0 175.5,186.3 176.2,186.8 176.5,187.2 176.9,187.9 177.2,188.5 177.3,189.2 177.3,190.2 177.2,191.2 176.9,192.2 176.5,193.2 176.0,193.9 175.4,194.5 174.9,195.0 174.2,195.4 173.5,195.5ZM131.9,259.2 116.2,259.2 116.2,237.4 116.9,237.0 117.9,236.4 118.5,236.0 119.5,235.7 120.2,235.5 120.9,235.4 121.9,235.4 122.9,235.6 123.5,235.7 124.5,236.1 125.2,236.5 126.2,237.1 126.9,237.7 127.9,238.6 128.5,239.4 129.9,241.2 131.0,243.2 131.9,245.2 132.5,247.2 132.9,249.5 133.1,252.2 132.9,255.2 132.6,256.9 132.3,258.2 132.0,259.2 131.9,259.2Z" fill="#4890f0" fill-rule="evenodd" stroke="#000" stroke-width="0.7" stroke-opacity="1"/>
<path d="M128.9,259.2 120.1,259.2 118.9,258.2 117.8,257.2 116.9,255.9 116.2,254.6 116.2,244.0 116.4,243.5 117.2,242.5 118.1,241.5 118.8,240.9 120.2,239.8 121.5,239.2 122.2,239.0 122.9,238.8 123.5,238.8 124.2,238.9 124.9,239.1 125.5,239.3 126.2,239.7 126.9,240.1 127.5,240.6 128.2,241.3 129.2,242.5 130.2,244.1 131.0,245.9 131.5,247.5 131.8,249.5 131.8,251.2 131.6,253.2 131.2,255.1 130.5,256.9 130.0,257.9 129.6,258.5 129.0,259.2 128.9,259.2Z" fill="#4078f0" fill-rule="evenodd" stroke="#000" stroke-width="0.7" stroke-opacity="1"/>
<path d="M125.9,258.0 125.2,258.1 124.9,258.1 123.9,258.0 123.2,257.8 121.9,257.2 121.2,256.7 120.6,256.2 119.5,255.1 118.8,253.9 118.2,252.5 117.8,250.9 117.7,249.2 117.8,248.2 117.9,247.2 118.1,246.5 118.9,245.2 119.9,243.9 120.5,243.2 121.2,242.7 121.9,242.2 122.5,241.9 123.2,241.7 123.9,241.5 124.5,241.5 125.2,241.6 126.2,242.0 127.2,242.6 128.2,243.6 128.9,244.5 129.6,245.9 130.2,247.5 130.4,248.9 130.5,250.2 130.3,251.9 130.0,253.2 129.5,254.5 128.9,255.7 128.5,256.2 127.9,256.8 126.9,257.5 125.9,258.0Z" fill="#3060f0" fill-rule="evenodd" stroke="#000" stroke-width="0.7" stroke-opacity="1"/>
<path d="M125.2,255.2 124.2,255.3 123.2,255.1 122.5,254.7 121.9,254.1 121.1,253.2 120.6,252.2 120.2,251.2 120.1,250.2 120.1,249.2 120.4,248.2 120.8,247.2 121.4,246.2 122.2,245.3 122.9,244.8 123.5,244.4 124.5,244.2 125.5,244.3 126.2,244.5 126.9,244.9 127.5,245.6 128.2,246.5 128.5,247.2 128.8,248.2 128.9,249.2 128.9,250.2 128.8,251.2 128.5,252.2 128.0,253.2 127.5,253.9 126.8,254.5 125.9,255.0 125.2,255.2Z" fill="#2040f8" fill-rule="evenodd" stroke="#000" stroke-width="0.7" stroke-opacity="1"/>
<path d="M125.2,250.9 124.9,250.9 124.5,250.9 124.2,250.5 124.0,250.2 123.9,249.9 123.9,249.5 124.1,248.9 124.5,248.5 124.9,248.3 125.2,248.3 125.5,248.5 125.8,248.9 126.0,249.2 126.0,249.5 125.9,250.2 125.5,250.7 125.2,250.9Z" fill="#1020ff" fill-rule="evenodd" stroke="#000" stroke-width="0.7" stroke-opacity="1"/>
</g>
<path d="M129.80,175.20 C131.55,173.82 133.88,174.37 136.00,174.20 C138.12,174.03 140.33,173.98 142.50,174.20 C144.67,174.42 147.17,175.10 149.00,175.50 C150.83,175.90 151.80,175.90 153.50,176.60 C155.20,177.30 156.75,178.43 159.20,179.70 C161.65,180.97 165.57,182.52 168.20,184.20 C170.83,185.88 173.40,187.92 175.00,189.80 C176.60,191.68 177.23,193.60 177.80,195.50 C178.37,197.40 178.30,198.02 178.40,201.20 C178.50,204.38 178.78,210.10 178.40,214.60 C178.02,219.10 177.42,223.67 176.10,228.20 C174.78,232.73 172.95,237.67 170.50,241.80 C168.05,245.93 164.82,250.42 161.40,253.00 C157.98,255.58 153.07,256.57 150.00,257.30 C146.93,258.03 145.23,257.55 143.00,257.40 C140.77,257.25 139.17,257.13 136.60,256.40 C134.03,255.67 130.05,255.07 127.60,253.00 C125.15,250.93 123.42,247.38 121.90,244.00 C120.38,240.62 119.12,236.53 118.50,232.70 C117.88,228.87 118.20,224.78 118.20,221.00 C118.20,217.22 118.20,213.50 118.50,210.00 C118.80,206.50 119.43,203.00 120.00,200.00 C120.57,197.00 120.98,194.92 121.90,192.00 C122.82,189.08 124.18,185.30 125.50,182.50 C126.82,179.70 128.05,176.58 129.80,175.20 Z" fill="none" stroke="#000" stroke-width="0.9"/>
<clipPath id="cp3"><path d="M31.50,327.00 C32.47,325.83 33.50,324.67 35.00,323.80 C36.50,322.93 37.88,322.00 40.50,321.80 C43.12,321.60 47.45,322.22 50.70,322.60 C53.95,322.98 57.28,323.60 60.00,324.10 C62.72,324.60 64.75,325.15 67.00,325.60 C69.25,326.05 71.90,326.02 73.50,326.80 C75.10,327.58 75.65,328.70 76.60,330.30 C77.55,331.90 78.52,334.18 79.20,336.40 C79.88,338.62 80.45,341.03 80.70,343.60 C80.95,346.17 80.87,349.07 80.70,351.80 C80.53,354.53 80.27,356.90 79.70,360.00 C79.13,363.10 78.50,366.88 77.30,370.40 C76.10,373.92 74.48,377.73 72.50,381.10 C70.52,384.47 67.97,387.63 65.40,390.60 C62.83,393.57 59.67,396.95 57.10,398.90 C54.53,400.85 52.08,401.68 50.00,402.30 C47.92,402.92 46.52,402.78 44.60,402.60 C42.68,402.42 40.28,402.23 38.50,401.20 C36.72,400.17 35.55,398.27 33.90,396.40 C32.25,394.53 30.20,392.50 28.60,390.00 C27.00,387.50 25.47,384.62 24.30,381.40 C23.13,378.18 22.15,374.27 21.60,370.70 C21.05,367.13 21.02,362.82 21.00,360.00 C20.98,357.18 21.15,356.03 21.50,353.80 C21.85,351.57 22.33,349.15 23.10,346.60 C23.87,344.05 25.08,341.13 26.10,338.50 C27.12,335.87 28.30,332.72 29.20,330.80 C30.10,328.88 30.53,328.17 31.50,327.00 Z"/></clipPath>
<g clip-path="url(#cp3)">
<rect x="18.0" y="318.8" width="65.7" height="86.8" fill="#90f040"/>
<path d="M41.50,347.40 C43.23,346.82 44.70,348.18 46.00,348.50 C47.30,348.82 47.93,348.52 49.30,349.30 C50.67,350.08 52.73,350.58 54.20,353.20 C55.67,355.82 56.80,360.75 58.10,365.00 C59.40,369.25 60.85,373.82 62.00,378.70 C63.15,383.58 65.33,390.75 65.00,394.30 C64.67,397.85 62.62,398.85 60.00,400.00 C57.38,401.15 52.05,401.50 49.30,401.20 C46.55,400.90 45.12,400.98 43.50,398.20 C41.88,395.42 40.75,389.37 39.60,384.50 C38.45,379.63 37.27,374.42 36.60,369.00 C35.93,363.58 34.78,355.60 35.60,352.00 C36.42,348.40 39.77,347.98 41.50,347.40 Z" fill="#80f040" stroke="#000" stroke-width="0.85" stroke-opacity="1"/>
<path d="M44.79,357.85 C44.55,358.49 44.02,359.24 43.56,359.59 C43.10,359.93 42.43,360.08 42.01,359.93 C41.59,359.77 41.17,359.23 41.04,358.67 C40.90,358.10 40.98,357.19 41.21,356.55 C41.45,355.91 41.98,355.16 42.44,354.81 C42.90,354.47 43.57,354.32 43.99,354.47 C44.41,354.63 44.83,355.17 44.96,355.73 C45.10,356.30 45.02,357.21 44.79,357.85 Z" fill="#90f080" stroke="#000" stroke-width="0.85" stroke-opacity="1"/>
<path d="M51.80,372.30 C51.80,372.91 51.42,373.71 50.92,374.14 C50.42,374.57 49.51,374.90 48.80,374.90 C48.09,374.90 47.18,374.57 46.68,374.14 C46.18,373.71 45.80,372.91 45.80,372.30 C45.80,371.69 46.18,370.89 46.68,370.46 C47.18,370.03 48.09,369.70 48.80,369.70 C49.51,369.70 50.42,370.03 50.92,370.46 C51.42,370.89 51.80,371.69 51.80,372.30 Z" fill="#90f080" stroke="#000" stroke-width="0.85" stroke-opacity="1"/>
<path d="M45.50,390.00 C45.33,388.75 46.25,386.92 47.00,386.50 C47.75,386.08 48.83,387.62 50.00,387.50 C51.17,387.38 52.75,385.97 54.00,385.80 C55.25,385.63 57.00,385.97 57.50,386.50 C58.00,387.03 57.83,388.00 57.00,389.00 C56.17,390.00 54.00,391.67 52.50,392.50 C51.00,393.33 49.17,394.42 48.00,394.00 C46.83,393.58 45.67,391.25 45.50,390.00 Z" fill="#90f080" stroke="#000" stroke-width="0.85" stroke-opacity="1"/>
<path d="M28.00,318.00 C37.33,317.00 76.33,305.67 86.00,318.00 C95.67,330.33 89.00,380.00 86.00,392.00 C83.00,404.00 71.50,392.00 68.00,390.00 C64.50,388.00 66.17,383.33 65.00,380.00 C63.83,376.67 62.33,373.17 61.00,370.00 C59.67,366.83 58.33,363.83 57.00,361.00 C55.67,358.17 54.67,354.42 53.00,353.00 C51.33,351.58 48.83,353.17 47.00,352.50 C45.17,351.83 43.25,350.75 42.00,349.00 C40.75,347.25 40.08,344.50 39.50,342.00 C38.92,339.50 39.42,336.17 38.50,334.00 C37.58,331.83 35.42,330.67 34.00,329.00 C32.58,327.33 31.00,325.83 30.00,324.00 C29.00,322.17 18.67,319.00 28.00,318.00 Z" fill="#c0f040" stroke="#000" stroke-width="0.85" stroke-opacity="1"/>
<path d="M35.00,319.00 C39.50,317.75 60.08,317.75 65.00,319.00 C69.92,320.25 65.00,324.77 64.50,326.50 C64.00,328.23 63.88,329.02 62.00,329.40 C60.12,329.78 56.28,329.07 53.20,328.80 C50.12,328.53 46.03,328.18 43.50,327.80 C40.97,327.42 39.42,327.97 38.00,326.50 C36.58,325.03 30.50,320.25 35.00,319.00 Z" fill="#f8f040" stroke="#000" stroke-width="0.85" stroke-opacity="1"/>
<path d="M42.70,340.50 C42.70,340.90 42.56,341.42 42.38,341.70 C42.19,341.99 41.86,342.20 41.60,342.20 C41.34,342.20 41.01,341.99 40.82,341.70 C40.64,341.42 40.50,340.90 40.50,340.50 C40.50,340.10 40.64,339.58 40.82,339.30 C41.01,339.01 41.34,338.80 41.60,338.80 C41.86,338.80 42.19,339.01 42.38,339.30 C42.56,339.58 42.70,340.10 42.70,340.50 Z" fill="#f8f040" stroke="#000" stroke-width="0.85" stroke-opacity="1"/>
<path d="M52.50,331.50 C53.33,330.25 55.75,330.62 58.00,330.50 C60.25,330.38 63.67,330.63 66.00,330.80 C68.33,330.97 70.33,331.05 72.00,331.50 C73.67,331.95 74.83,332.42 76.00,333.50 C77.17,334.58 78.00,336.08 79.00,338.00 C80.00,339.92 81.50,341.33 82.00,345.00 C82.50,348.67 82.58,356.17 82.00,360.00 C81.42,363.83 79.83,365.00 78.50,368.00 C77.17,371.00 75.25,376.00 74.00,378.00 C72.75,380.00 72.00,380.33 71.00,380.00 C70.00,379.67 69.00,377.83 68.00,376.00 C67.00,374.17 66.17,371.67 65.00,369.00 C63.83,366.33 62.25,362.83 61.00,360.00 C59.75,357.17 58.50,354.50 57.50,352.00 C56.50,349.50 55.75,347.33 55.00,345.00 C54.25,342.67 53.42,340.25 53.00,338.00 C52.58,335.75 51.67,332.75 52.50,331.50 Z" fill="#f8f040" stroke="#000" stroke-width="0.85" stroke-opacity="1"/>
<path d="M57.50,334.50 C58.17,333.25 60.25,332.92 62.00,332.50 C63.75,332.08 66.00,331.75 68.00,332.00 C70.00,332.25 72.50,333.17 74.00,334.00 C75.50,334.83 76.00,335.33 77.00,337.00 C78.00,338.67 79.17,341.00 80.00,344.00 C80.83,347.00 82.00,351.67 82.00,355.00 C82.00,358.33 81.00,361.50 80.00,364.00 C79.00,366.50 77.17,368.50 76.00,370.00 C74.83,371.50 74.00,373.00 73.00,373.00 C72.00,373.00 71.17,371.67 70.00,370.00 C68.83,368.33 67.33,365.50 66.00,363.00 C64.67,360.50 63.08,357.67 62.00,355.00 C60.92,352.33 60.17,349.50 59.50,347.00 C58.83,344.50 58.33,342.08 58.00,340.00 C57.67,337.92 56.83,335.75 57.50,334.50 Z" fill="#f0a030" stroke="#000" stroke-width="0.85" stroke-opacity="1"/>
<path d="M64.00,334.70 C65.15,333.72 67.27,333.22 68.90,333.70 C70.53,334.18 72.67,335.65 73.80,337.60 C74.93,339.55 75.22,342.80 75.70,345.40 C76.18,348.00 76.70,350.43 76.70,353.20 C76.70,355.97 76.35,360.20 75.70,362.00 C75.05,363.80 73.60,364.48 72.80,364.00 C72.00,363.52 71.72,361.55 70.90,359.10 C70.08,356.65 69.05,351.58 67.90,349.30 C66.75,347.02 64.98,347.02 64.00,345.40 C63.02,343.78 62.00,341.38 62.00,339.60 C62.00,337.82 62.85,335.68 64.00,334.70 Z" fill="#e86020" stroke="#000" stroke-width="0.85" stroke-opacity="1"/>
<path d="M28.40,355.30 C28.40,357.10 28.17,359.25 27.83,360.71 C27.48,362.17 26.89,363.49 26.33,364.05 C25.77,364.61 25.03,364.61 24.47,364.05 C23.91,363.49 23.32,362.17 22.97,360.71 C22.63,359.25 22.40,357.10 22.40,355.30 C22.40,353.50 22.63,351.35 22.97,349.89 C23.32,348.43 23.91,347.11 24.47,346.55 C25.03,345.99 25.77,345.99 26.33,346.55 C26.89,347.11 27.48,348.43 27.83,349.89 C28.17,351.35 28.40,353.50 28.40,355.30 Z" fill="#c0f040" stroke="#000" stroke-width="0.85" stroke-opacity="1"/>
<path d="M27.00,370.00 C27.75,369.17 29.00,368.33 30.00,369.00 C31.00,369.67 32.00,372.00 33.00,374.00 C34.00,376.00 34.92,378.50 36.00,381.00 C37.08,383.50 38.58,386.50 39.50,389.00 C40.42,391.50 41.33,394.08 41.50,396.00 C41.67,397.92 41.25,399.83 40.50,400.50 C39.75,401.17 38.25,400.92 37.00,400.00 C35.75,399.08 34.33,397.00 33.00,395.00 C31.67,393.00 30.17,390.50 29.00,388.00 C27.83,385.50 26.58,382.33 26.00,380.00 C25.42,377.67 25.33,375.67 25.50,374.00 C25.67,372.33 26.25,370.83 27.00,370.00 Z" fill="#c0f040" stroke="#000" stroke-width="0.85" stroke-opacity="1"/>
<path d="M30.50,382.00 C30.83,381.00 31.75,380.50 32.50,381.00 C33.25,381.50 34.08,383.33 35.00,385.00 C35.92,386.67 37.25,389.00 38.00,391.00 C38.75,393.00 39.50,395.67 39.50,397.00 C39.50,398.33 38.67,399.00 38.00,399.00 C37.33,399.00 36.42,398.17 35.50,397.00 C34.58,395.83 33.33,393.67 32.50,392.00 C31.67,390.33 30.83,388.67 30.50,387.00 C30.17,385.33 30.17,383.00 30.50,382.00 Z" fill="#f8f040" stroke="#000" stroke-width="0.85" stroke-opacity="1"/>
</g>
<path d="M31.50,327.00 C32.47,325.83 33.50,324.67 35.00,323.80 C36.50,322.93 37.88,322.00 40.50,321.80 C43.12,321.60 47.45,322.22 50.70,322.60 C53.95,322.98 57.28,323.60 60.00,324.10 C62.72,324.60 64.75,325.15 67.00,325.60 C69.25,326.05 71.90,326.02 73.50,326.80 C75.10,327.58 75.65,328.70 76.60,330.30 C77.55,331.90 78.52,334.18 79.20,336.40 C79.88,338.62 80.45,341.03 80.70,343.60 C80.95,346.17 80.87,349.07 80.70,351.80 C80.53,354.53 80.27,356.90 79.70,360.00 C79.13,363.10 78.50,366.88 77.30,370.40 C76.10,373.92 74.48,377.73 72.50,381.10 C70.52,384.47 67.97,387.63 65.40,390.60 C62.83,393.57 59.67,396.95 57.10,398.90 C54.53,400.85 52.08,401.68 50.00,402.30 C47.92,402.92 46.52,402.78 44.60,402.60 C42.68,402.42 40.28,402.23 38.50,401.20 C36.72,400.17 35.55,398.27 33.90,396.40 C32.25,394.53 30.20,392.50 28.60,390.00 C27.00,387.50 25.47,384.62 24.30,381.40 C23.13,378.18 22.15,374.27 21.60,370.70 C21.05,367.13 21.02,362.82 21.00,360.00 C20.98,357.18 21.15,356.03 21.50,353.80 C21.85,351.57 22.33,349.15 23.10,346.60 C23.87,344.05 25.08,341.13 26.10,338.50 C27.12,335.87 28.30,332.72 29.20,330.80 C30.10,328.88 30.53,328.17 31.50,327.00 Z" fill="none" stroke="#000" stroke-width="0.9"/>
<clipPath id="cp4"><path d="M128.50,322.50 C129.28,321.25 129.75,320.48 131.00,320.00 C132.25,319.52 134.08,319.67 136.00,319.60 C137.92,319.53 141.00,319.43 142.50,319.60 C144.00,319.77 142.58,319.37 145.00,320.60 C147.42,321.83 153.08,324.97 157.00,327.00 C160.92,329.03 166.07,331.32 168.50,332.80 C170.93,334.28 170.78,333.80 171.60,335.90 C172.42,338.00 172.90,342.22 173.40,345.40 C173.90,348.58 174.40,352.23 174.60,355.00 C174.80,357.77 174.70,359.58 174.60,362.00 C174.50,364.42 174.60,366.65 174.00,369.50 C173.40,372.35 172.28,376.12 171.00,379.10 C169.72,382.08 168.08,384.82 166.30,387.40 C164.52,389.98 162.48,392.62 160.30,394.60 C158.12,396.58 155.58,398.23 153.20,399.30 C150.82,400.37 148.28,400.78 146.00,401.00 C143.72,401.22 141.88,401.27 139.50,400.60 C137.12,399.93 134.00,398.60 131.70,397.00 C129.40,395.40 127.48,393.38 125.70,391.00 C123.92,388.62 122.28,385.88 121.00,382.70 C119.72,379.52 118.70,375.35 118.00,371.90 C117.30,368.45 116.93,365.02 116.80,362.00 C116.67,358.98 116.75,356.72 117.20,353.80 C117.65,350.88 118.48,347.68 119.50,344.50 C120.52,341.32 122.17,337.53 123.30,334.70 C124.43,331.87 125.43,329.53 126.30,327.50 C127.17,325.47 127.72,323.75 128.50,322.50 Z"/></clipPath>
<g clip-path="url(#cp4)">
<rect x="114.8" y="317.6" width="61.8" height="85.4" fill="#e00010"/>
<path d="M155.8,402.9 139.8,403.2 114.8,403.2 114.5,402.9 114.5,317.6 114.8,317.3 173.8,317.3 176.5,317.4 176.7,317.6 176.7,331.9 176.5,337.9 176.5,338.3 175.3,340.3 174.6,341.6 174.4,342.6 174.2,344.3 174.1,345.6 174.1,347.3 174.8,356.6 174.8,358.9 174.8,361.3 174.7,363.9 174.2,368.9 173.8,371.5 173.2,374.3 171.4,381.3 170.3,384.6 169.5,386.6 168.7,388.3 167.8,389.9 166.5,392.2 165.3,393.9 164.1,395.6 163.1,396.9 161.8,398.3 160.5,399.6 158.8,401.0 156.1,402.9 155.8,402.9Z" fill="#e86020" fill-rule="evenodd" stroke="#000" stroke-width="0.8" stroke-opacity="1"/>
<path d="M150.5,402.9 136.5,403.2 114.8,403.2 114.5,402.9 114.5,317.6 114.8,317.3 170.5,317.4 176.5,317.4 176.7,317.6 176.6,330.3 176.5,336.1 174.6,339.3 173.8,340.9 173.5,341.9 173.1,343.6 172.8,345.6 172.7,346.9 172.8,348.3 173.5,352.7 173.6,354.3 173.5,359.9 173.4,363.6 173.2,366.3 172.8,368.8 172.1,371.9 171.5,374.5 169.6,381.3 169.0,382.9 168.3,384.6 167.7,385.9 166.8,387.6 165.8,389.3 164.1,391.9 163.1,393.3 162.1,394.5 161.1,395.6 160.1,396.5 159.1,397.3 157.8,398.2 156.8,398.8 156.1,399.1 153.8,399.9 152.8,400.4 152.1,400.9 151.8,401.3 151.1,402.3 150.8,402.9 150.5,402.9Z" fill="#f0a030" fill-rule="evenodd" stroke="#000" stroke-width="0.8" stroke-opacity="1"/>
<path d="M147.1,402.9 135.1,403.1 114.8,403.2 114.6,402.9 114.6,317.6 114.8,317.4 167.8,317.4 176.5,317.5 176.6,317.6 176.6,327.9 176.5,333.7 173.8,338.6 173.1,339.9 171.8,343.6 171.5,344.9 171.3,346.6 171.4,348.3 171.7,349.9 172.4,352.9 172.5,353.9 172.5,355.2 172.1,360.6 171.8,365.9 171.5,367.7 170.5,371.8 168.6,378.6 167.9,380.9 166.8,383.6 165.5,386.1 164.3,387.9 162.5,390.6 161.1,392.2 160.1,393.2 159.1,394.0 158.1,394.7 157.1,395.3 155.5,396.0 152.1,396.9 151.5,397.2 150.8,397.6 149.8,398.6 148.5,400.3 147.8,401.4 147.2,402.9 147.1,402.9Z" fill="#f8f040" fill-rule="evenodd" stroke="#000" stroke-width="0.8" stroke-opacity="1"/>
<path d="M144.1,402.9 133.8,403.1 114.8,403.2 114.6,402.9 114.6,317.6 114.8,317.4 163.1,317.4 176.5,317.5 176.6,317.6 176.5,330.7 175.7,332.6 174.9,334.3 172.4,338.9 170.4,342.9 169.9,344.3 169.6,345.6 169.5,346.9 169.7,348.6 170.0,350.3 170.8,352.9 171.0,353.6 171.0,354.3 171.0,355.3 170.4,360.3 170.1,365.3 169.7,367.3 167.4,376.3 166.8,378.6 166.2,380.3 165.4,382.3 164.1,384.4 161.8,387.8 160.8,389.2 160.1,390.0 159.5,390.6 158.6,391.3 156.8,392.4 155.1,393.1 151.8,394.3 150.5,394.9 149.1,395.6 147.7,396.6 146.2,397.9 145.4,398.9 145.1,399.6 144.8,400.6 144.3,402.9 144.1,402.9Z" fill="#c0f040" fill-rule="evenodd" stroke="#000" stroke-width="0.8" stroke-opacity="1"/>
<path d="M141.8,402.9 132.8,403.1 114.8,403.1 114.6,402.9 114.6,317.6 114.8,317.4 163.1,317.4 176.5,317.6 176.5,317.6 176.5,326.2 175.7,328.9 174.6,331.9 173.4,334.6 172.5,336.4 171.1,338.7 170.1,340.2 168.9,341.9 168.3,342.9 167.7,344.3 167.4,345.6 167.2,346.9 167.3,348.3 167.6,349.9 168.3,352.6 168.5,353.9 168.6,355.3 168.6,356.9 167.9,363.6 167.6,365.6 165.4,376.3 164.9,378.3 164.5,379.5 164.1,380.3 163.5,381.4 162.1,383.4 159.5,386.6 158.5,387.6 157.8,388.3 156.4,389.3 154.6,390.3 148.3,392.9 147.1,393.5 145.8,394.3 144.8,395.2 143.8,396.5 143.4,397.3 143.1,397.9 142.6,399.6 142.1,402.9 141.8,402.9Z" fill="#90f040" fill-rule="evenodd" stroke="#000" stroke-width="0.8" stroke-opacity="1"/>
<path d="M139.8,402.9 131.8,403.1 114.8,403.1 114.6,402.9 114.6,317.6 114.8,317.4 162.8,317.5 176.4,317.6 175.8,321.9 174.9,326.3 173.7,330.6 173.1,332.3 172.5,333.9 171.5,335.8 170.1,337.8 168.8,339.4 166.4,341.9 165.4,343.3 164.4,344.9 164.0,345.9 163.8,346.6 163.6,347.9 163.6,349.3 163.8,350.6 164.8,355.3 164.9,356.6 164.9,358.3 164.8,359.9 164.5,362.3 163.5,369.3 163.3,371.3 163.0,375.9 162.8,377.3 162.7,377.9 162.3,378.6 161.8,379.4 160.5,380.8 157.1,383.9 154.6,385.9 152.8,387.3 150.0,388.9 148.5,389.8 146.5,390.5 145.5,390.9 144.5,391.5 143.8,392.1 143.4,392.6 142.8,393.4 142.2,394.6 141.8,395.6 141.2,397.3 140.6,399.9 140.1,402.9 139.8,402.9Z" fill="#80f040" fill-rule="evenodd" stroke="#000" stroke-width="0.8" stroke-opacity="1"/>
<path d="M138.1,402.9 130.8,403.0 114.8,403.1 114.6,402.9 114.6,317.6 114.8,317.4 147.1,317.5 162.1,317.5 174.4,317.6 174.2,319.9 173.9,322.3 173.5,324.6 173.0,327.3 172.5,329.6 171.8,331.9 171.2,333.6 170.6,334.9 169.9,335.9 169.1,336.9 168.5,337.6 167.5,338.5 165.8,339.8 163.1,341.7 159.2,343.9 158.4,344.6 158.1,345.0 157.9,345.6 157.7,346.3 157.6,346.9 157.6,348.6 157.9,350.3 158.7,355.3 158.9,356.6 158.9,357.9 158.7,359.6 158.4,360.9 158.0,362.3 157.0,364.9 156.7,365.9 156.8,366.9 157.1,369.9 157.2,371.6 157.1,372.9 156.8,374.1 156.6,374.6 156.1,375.3 155.4,375.9 153.8,377.3 153.2,377.9 151.9,380.6 151.3,381.6 150.4,382.9 149.5,383.9 148.5,384.9 147.5,385.7 144.1,387.8 143.1,388.5 142.5,389.1 141.8,389.8 141.4,390.6 140.8,392.0 139.7,395.3 138.8,398.9 138.3,402.9 138.1,402.9Z" fill="#90f080" fill-rule="evenodd" stroke="#000" stroke-width="0.8" stroke-opacity="1"/>
<path d="M136.5,402.9 129.5,403.0 114.8,403.1 114.7,402.9 114.7,317.6 114.8,317.5 147.1,317.5 161.5,317.5 172.3,317.6 172.2,319.9 172.1,321.9 171.8,324.3 171.4,326.6 170.8,329.6 170.1,332.3 169.7,333.6 169.1,334.6 168.1,335.8 167.1,336.7 165.8,337.6 164.5,338.4 162.8,339.2 161.5,339.6 159.8,340.1 156.9,340.6 155.7,340.9 155.1,341.2 154.5,341.6 154.3,341.9 154.1,342.2 152.7,346.6 152.6,347.3 152.4,348.3 152.4,349.3 152.5,350.3 152.7,351.6 153.3,354.3 153.5,355.9 153.6,357.6 153.5,359.9 153.2,365.6 153.1,366.3 152.9,366.9 151.9,370.3 151.1,372.3 148.7,377.3 147.8,378.9 146.7,380.6 145.4,382.3 144.2,383.6 142.1,385.6 141.1,386.7 140.3,387.9 139.8,388.9 139.1,390.6 138.7,391.9 137.1,398.0 137.0,398.6 136.8,401.3 136.5,402.9 136.5,402.9ZM148.3,327.9 148.8,327.5 149.1,326.9 149.2,326.6 149.3,325.6 149.1,324.7 148.8,323.9 148.5,323.3 148.1,322.9 147.8,322.6 147.5,322.5 147.1,322.4 146.8,322.4 146.5,322.6 146.1,323.0 145.8,323.6 145.5,324.3 145.4,324.9 145.3,325.6 145.4,326.6 145.5,326.9 145.8,327.5 146.1,327.9 146.5,328.1 146.8,328.2 147.5,328.3 147.8,328.2 148.3,327.9Z" fill="#90f0a8" fill-rule="evenodd" stroke="#000" stroke-width="0.8" stroke-opacity="1"/>
<path d="M134.8,402.9 114.8,403.1 114.7,402.9 114.7,317.6 114.8,317.5 147.1,317.6 161.1,317.5 170.0,317.6 170.1,320.3 170.0,322.9 169.7,325.3 169.2,327.9 168.5,331.3 168.1,332.6 167.8,333.3 167.4,333.9 166.5,334.9 165.8,335.5 164.8,336.1 163.8,336.6 162.5,337.1 160.5,337.6 155.8,338.5 154.8,338.8 154.1,339.1 153.5,339.5 153.0,339.9 152.5,340.6 152.0,341.6 151.8,341.9 151.1,342.3 150.5,342.3 150.1,342.2 149.8,342.0 149.5,341.6 148.6,340.3 148.1,339.7 147.5,339.2 146.8,338.9 146.5,338.9 145.8,339.0 145.1,339.3 144.8,339.5 144.4,339.9 144.1,340.3 143.8,340.9 143.6,341.6 143.6,342.6 143.8,343.6 144.0,344.3 144.8,345.6 146.3,347.6 146.9,348.6 147.5,349.9 148.0,351.6 148.4,353.9 149.0,356.3 149.3,357.9 149.4,360.3 149.2,362.6 149.0,363.9 148.4,365.9 148.2,367.9 147.9,369.6 147.2,371.6 146.3,373.9 145.3,375.9 143.4,379.3 142.3,380.9 140.1,383.7 139.1,385.1 138.3,386.6 137.6,388.3 137.1,389.9 136.6,391.9 136.2,394.3 135.6,399.6 135.3,401.3 134.8,402.9ZM147.8,330.6 148.5,330.3 149.5,329.6 150.1,328.9 150.5,328.3 150.7,327.6 150.8,326.6 150.8,325.6 150.7,324.6 150.4,323.6 149.9,322.3 149.5,321.4 149.1,320.9 148.5,320.3 147.8,320.1 147.1,320.0 146.5,320.2 146.1,320.4 145.5,321.0 145.1,321.6 144.5,323.0 143.9,324.6 143.7,325.6 143.7,326.3 143.8,327.3 144.1,328.0 144.8,329.2 145.4,329.9 145.8,330.2 146.5,330.6 147.1,330.7 147.8,330.6Z" fill="#80d8f8" fill-rule="evenodd" stroke="#000" stroke-width="0.8" stroke-opacity="1"/>
<path d="M132.8,402.9 114.8,403.0 114.7,402.9 114.7,317.6 114.8,317.5 145.9,317.6 145.4,317.9 144.8,318.5 144.1,319.6 143.7,320.6 143.1,322.4 142.3,324.3 142.0,325.3 141.9,326.3 142.0,327.3 142.2,328.3 143.0,329.9 143.1,330.5 143.3,331.9 143.3,332.9 143.2,333.6 143.0,334.3 141.5,337.3 141.0,338.9 140.7,340.6 140.5,343.6 140.5,344.6 140.7,345.6 141.0,346.6 141.4,347.6 142.4,349.3 144.1,351.6 144.8,352.6 145.2,353.3 145.4,353.9 145.6,355.9 145.7,359.3 145.6,362.6 145.4,365.9 145.0,367.6 144.1,369.9 142.8,373.1 140.9,377.3 140.1,378.6 137.9,381.6 137.0,382.9 136.3,384.3 135.6,385.9 135.3,386.9 134.9,388.3 134.5,391.6 134.4,394.3 134.5,397.9 134.5,398.6 133.8,400.5 132.8,402.9ZM157.1,336.3 155.8,336.5 154.8,336.6 153.8,336.5 153.1,336.4 152.5,336.2 152.0,335.9 151.5,335.5 151.1,334.9 151.0,334.6 150.9,333.9 151.0,332.9 151.3,331.9 151.9,330.3 152.1,329.3 152.1,326.6 152.1,324.6 151.9,323.6 151.5,321.3 151.1,319.9 150.8,319.2 150.5,318.6 150.1,318.2 149.5,317.6 159.1,317.6 167.4,317.6 167.7,319.6 167.8,321.3 167.8,323.3 167.7,324.9 167.5,326.3 167.1,327.9 166.1,331.3 165.7,332.3 165.3,332.9 164.7,333.6 163.8,334.3 162.8,334.8 161.8,335.2 160.8,335.5 157.1,336.3Z" fill="#5090f0" fill-rule="evenodd" stroke="#000" stroke-width="0.8" stroke-opacity="1"/>
<path d="M130.1,402.9 114.8,403.0 114.7,402.9 114.7,317.6 114.8,317.5 142.0,317.6 141.6,318.9 140.9,321.6 139.9,324.6 139.3,326.6 138.5,331.6 137.3,336.3 136.9,338.3 136.4,342.9 136.2,344.9 136.2,346.3 136.4,347.6 136.7,348.9 136.9,349.9 137.3,350.9 137.8,352.0 139.8,355.6 140.2,356.6 140.5,357.6 140.7,359.3 140.9,361.3 140.9,363.3 140.8,364.9 140.5,366.3 140.1,367.6 137.8,373.3 136.5,376.0 133.7,380.6 133.0,381.9 132.5,383.6 132.2,384.6 132.0,385.9 131.8,387.6 131.7,389.3 131.8,390.9 132.2,395.9 132.2,397.6 131.9,398.9 131.5,400.2 130.3,402.9 130.1,402.9ZM156.5,334.6 155.5,334.6 154.8,334.4 154.4,334.3 154.0,333.9 153.7,333.6 153.5,333.1 153.3,332.6 153.3,331.6 153.4,329.9 153.3,328.3 153.3,326.9 153.8,319.3 153.9,317.6 164.1,317.6 164.7,319.3 165.1,320.9 165.3,322.3 165.4,323.9 165.3,325.3 165.1,326.9 164.6,328.9 164.1,330.3 163.5,331.3 162.9,331.9 162.2,332.6 161.1,333.3 160.1,333.7 159.1,334.1 157.5,334.5 156.5,334.6Z" fill="#2040f8" fill-rule="evenodd" stroke="#000" stroke-width="0.8" stroke-opacity="1"/>
<path d="M126.8,402.9 114.8,403.0 114.7,402.9 114.7,317.6 114.8,317.5 137.9,317.6 137.3,320.9 137.0,321.9 136.7,322.9 135.8,324.5 134.0,327.3 133.5,328.3 133.1,329.3 132.9,330.3 132.6,332.9 132.2,334.9 131.8,336.9 130.7,340.9 130.4,342.6 130.2,344.6 130.2,346.6 130.3,349.6 130.4,353.3 130.7,354.6 131.6,357.6 132.0,359.3 132.2,360.9 132.2,362.6 132.1,363.9 131.4,367.9 131.1,369.3 130.8,370.3 130.3,371.6 129.8,372.6 127.7,376.3 127.2,377.3 126.8,378.3 126.5,379.6 126.4,381.3 126.6,383.6 127.2,386.6 128.1,389.9 128.6,393.9 128.7,395.9 128.6,397.6 128.3,399.3 127.6,401.3 126.9,402.9 126.8,402.9ZM157.8,333.0 156.8,333.1 156.1,333.1 155.8,333.0 155.2,332.6 154.8,332.0 154.5,331.3 154.5,330.6 154.4,328.6 154.4,327.3 154.7,325.9 155.1,324.4 155.8,322.8 156.5,321.7 157.1,320.9 157.8,320.3 158.5,320.0 158.8,320.0 159.5,320.0 160.1,320.1 160.9,320.6 161.5,321.2 162.1,322.3 162.5,323.3 162.7,324.3 162.8,325.3 162.7,326.6 162.5,327.6 162.1,328.7 161.8,329.3 160.4,331.3 159.8,331.9 159.4,332.3 158.8,332.6 157.8,333.0Z" fill="#2000f0" fill-rule="evenodd" stroke="#000" stroke-width="0.8" stroke-opacity="1"/>
<path d="M122.5,402.9 114.8,402.9 114.8,317.6 114.8,317.6 127.8,317.6 126.8,319.0 126.2,320.3 125.8,321.6 125.7,322.6 125.8,323.6 126.2,324.9 126.6,325.9 127.5,327.9 127.9,328.9 128.1,329.9 128.0,330.6 127.8,331.9 127.4,333.3 125.4,338.6 124.8,340.6 124.4,342.3 124.2,344.6 124.1,346.6 124.3,348.6 124.5,350.6 125.1,353.4 125.2,354.3 125.2,362.3 125.2,363.6 125.0,364.9 124.7,366.3 124.0,367.6 123.1,368.9 120.6,372.3 119.4,374.3 118.9,375.3 118.5,376.3 118.3,377.3 118.2,377.9 118.2,378.9 118.3,379.9 118.5,381.3 118.9,382.6 119.9,385.6 122.8,392.9 123.2,394.3 123.5,395.6 123.6,397.3 123.5,398.9 123.1,400.9 122.5,402.9ZM157.8,331.7 157.1,331.8 156.8,331.8 156.1,331.6 155.8,331.3 155.5,330.8 155.3,330.3 155.2,329.6 155.3,328.9 155.4,327.9 155.7,327.3 156.1,326.4 156.5,325.9 156.8,325.6 157.5,325.1 158.1,324.9 158.5,324.9 158.8,324.9 159.1,325.1 159.5,325.4 159.8,325.9 160.0,326.6 160.0,327.6 159.8,328.6 159.0,330.6 158.5,331.3 157.8,331.7Z" fill="#5a00a0" fill-rule="evenodd" stroke="#000" stroke-width="0.8" stroke-opacity="1"/>
<path d="M114.8,368.2 114.8,317.6 121.1,317.6 120.5,319.9 120.3,321.3 120.1,322.6 120.2,324.9 120.7,329.9 120.7,331.3 120.5,332.6 120.2,334.6 118.9,339.9 118.2,343.3 117.7,346.3 117.1,350.3 116.8,353.6 116.7,359.3 116.6,360.9 116.5,362.3 116.2,363.6 115.9,364.9 114.8,368.2ZM157.5,330.3 157.1,330.5 156.8,330.5 156.5,330.3 156.3,329.9 156.2,329.6 156.3,329.3 156.5,328.9 156.8,328.5 157.1,328.3 157.5,328.3 157.8,328.6 157.9,328.9 157.9,329.6 157.8,329.9 157.5,330.3ZM117.1,402.9 114.8,402.9 114.8,388.0 116.6,393.3 117.1,394.9 117.5,396.6 117.6,398.3 117.7,399.9 117.4,402.3 117.3,402.9 117.1,402.9Z" fill="#40005a" fill-rule="evenodd" stroke="#000" stroke-width="0.8" stroke-opacity="1"/>
</g>
<path d="M128.50,322.50 C129.28,321.25 129.75,320.48 131.00,320.00 C132.25,319.52 134.08,319.67 136.00,319.60 C137.92,319.53 141.00,319.43 142.50,319.60 C144.00,319.77 142.58,319.37 145.00,320.60 C147.42,321.83 153.08,324.97 157.00,327.00 C160.92,329.03 166.07,331.32 168.50,332.80 C170.93,334.28 170.78,333.80 171.60,335.90 C172.42,338.00 172.90,342.22 173.40,345.40 C173.90,348.58 174.40,352.23 174.60,355.00 C174.80,357.77 174.70,359.58 174.60,362.00 C174.50,364.42 174.60,366.65 174.00,369.50 C173.40,372.35 172.28,376.12 171.00,379.10 C169.72,382.08 168.08,384.82 166.30,387.40 C164.52,389.98 162.48,392.62 160.30,394.60 C158.12,396.58 155.58,398.23 153.20,399.30 C150.82,400.37 148.28,400.78 146.00,401.00 C143.72,401.22 141.88,401.27 139.50,400.60 C137.12,399.93 134.00,398.60 131.70,397.00 C129.40,395.40 127.48,393.38 125.70,391.00 C123.92,388.62 122.28,385.88 121.00,382.70 C119.72,379.52 118.70,375.35 118.00,371.90 C117.30,368.45 116.93,365.02 116.80,362.00 C116.67,358.98 116.75,356.72 117.20,353.80 C117.65,350.88 118.48,347.68 119.50,344.50 C120.52,341.32 122.17,337.53 123.30,334.70 C124.43,331.87 125.43,329.53 126.30,327.50 C127.17,325.47 127.72,323.75 128.50,322.50 Z" fill="none" stroke="#000" stroke-width="0.9"/>
<line x1="54.8" y1="173.0" x2="49.7" y2="214.8" stroke="#8a8d9a" stroke-width="5.6" stroke-linecap="round"/>
<line x1="153.9" y1="173.0" x2="149.3" y2="210.2" stroke="#8a8d9a" stroke-width="5.8" stroke-linecap="round"/>
<rect x="205.6" y="256.91" width="14.2" height="2.89" fill="#e00000"/>
<rect x="205.6" y="254.01" width="14.2" height="2.89" fill="#e83010"/>
<rect x="205.6" y="251.12" width="14.2" height="2.89" fill="#e86020"/>
<rect x="205.6" y="248.23" width="14.2" height="2.89" fill="#f08020"/>
<rect x="205.6" y="245.33" width="14.2" height="2.89" fill="#f0a020"/>
<rect x="205.6" y="242.44" width="14.2" height="2.89" fill="#f0c020"/>
<rect x="205.6" y="239.55" width="14.2" height="2.89" fill="#f0e030"/>
<rect x="205.6" y="236.65" width="14.2" height="2.89" fill="#e0e030"/>
<rect x="205.6" y="233.76" width="14.2" height="2.89" fill="#c8e030"/>
<rect x="205.6" y="230.87" width="14.2" height="2.89" fill="#b0e030"/>
<rect x="205.6" y="227.97" width="14.2" height="2.89" fill="#a0e030"/>
<rect x="205.6" y="225.08" width="14.2" height="2.89" fill="#90e030"/>
<rect x="205.6" y="222.19" width="14.2" height="2.89" fill="#80e030"/>
<rect x="205.6" y="219.29" width="14.2" height="2.89" fill="#70e850"/>
<rect x="205.6" y="216.40" width="14.2" height="2.89" fill="#80f0a0"/>
<rect x="205.6" y="213.51" width="14.2" height="2.89" fill="#80f0c8"/>
<rect x="205.6" y="210.61" width="14.2" height="2.89" fill="#80e8f0"/>
<rect x="205.6" y="207.72" width="14.2" height="2.89" fill="#70c8f0"/>
<rect x="205.6" y="204.83" width="14.2" height="2.89" fill="#50a8e8"/>
<rect x="205.6" y="201.93" width="14.2" height="2.89" fill="#4890f0"/>
<rect x="205.6" y="199.04" width="14.2" height="2.89" fill="#4078f0"/>
<rect x="205.6" y="196.15" width="14.2" height="2.89" fill="#3060f0"/>
<rect x="205.6" y="193.25" width="14.2" height="2.89" fill="#2040f8"/>
<rect x="205.6" y="190.36" width="14.2" height="2.89" fill="#1020ff"/>
<rect x="205.6" y="187.47" width="14.2" height="2.89" fill="#2010f0"/>
<rect x="205.6" y="184.57" width="14.2" height="2.89" fill="#4800c8"/>
<rect x="205.6" y="181.68" width="14.2" height="2.89" fill="#5800a8"/>
<rect x="205.6" y="178.79" width="14.2" height="2.89" fill="#600090"/>
<rect x="205.6" y="175.89" width="14.2" height="2.89" fill="#500060"/>
<rect x="205.6" y="173.00" width="14.2" height="2.89" fill="#180018"/>
<path d="M205.6,256.91 h14.2 M205.6,254.01 h14.2 M205.6,251.12 h14.2 M205.6,248.23 h14.2 M205.6,245.33 h14.2 M205.6,242.44 h14.2 M205.6,239.55 h14.2 M205.6,236.65 h14.2 M205.6,233.76 h14.2 M205.6,230.87 h14.2 M205.6,227.97 h14.2 M205.6,225.08 h14.2 M205.6,222.19 h14.2 M205.6,219.29 h14.2 M205.6,216.40 h14.2 M205.6,213.51 h14.2 M205.6,210.61 h14.2 M205.6,207.72 h14.2 M205.6,204.83 h14.2 M205.6,201.93 h14.2 M205.6,199.04 h14.2 M205.6,196.15 h14.2 M205.6,193.25 h14.2 M205.6,190.36 h14.2 M205.6,187.47 h14.2 M205.6,184.57 h14.2 M205.6,181.68 h14.2 M205.6,178.79 h14.2 M205.6,175.89 h14.2" stroke="#000" stroke-opacity="0.75" stroke-width="0.55"/>
<rect x="205.6" y="173.0" width="14.2" height="86.80" fill="none" stroke="#000" stroke-width="0.8"/>
<rect x="205.8" y="399.83" width="13.8" height="5.77" fill="#e00010"/>
<rect x="205.8" y="394.05" width="13.8" height="5.77" fill="#e86020"/>
<rect x="205.8" y="388.28" width="13.8" height="5.77" fill="#f0a030"/>
<rect x="205.8" y="382.51" width="13.8" height="5.77" fill="#f8f040"/>
<rect x="205.8" y="376.73" width="13.8" height="5.77" fill="#c0f040"/>
<rect x="205.8" y="370.96" width="13.8" height="5.77" fill="#90f040"/>
<rect x="205.8" y="365.19" width="13.8" height="5.77" fill="#80f040"/>
<rect x="205.8" y="359.41" width="13.8" height="5.77" fill="#90f080"/>
<rect x="205.8" y="353.64" width="13.8" height="5.77" fill="#90f0a8"/>
<rect x="205.8" y="347.87" width="13.8" height="5.77" fill="#80d8f8"/>
<rect x="205.8" y="342.09" width="13.8" height="5.77" fill="#5090f0"/>
<rect x="205.8" y="336.32" width="13.8" height="5.77" fill="#2040f8"/>
<rect x="205.8" y="330.55" width="13.8" height="5.77" fill="#2000f0"/>
<rect x="205.8" y="324.77" width="13.8" height="5.77" fill="#5a00a0"/>
<rect x="205.8" y="319.00" width="13.8" height="5.77" fill="#40005a"/>
<path d="M205.8,399.83 h13.8 M205.8,394.05 h13.8 M205.8,388.28 h13.8 M205.8,382.51 h13.8 M205.8,376.73 h13.8 M205.8,370.96 h13.8 M205.8,365.19 h13.8 M205.8,359.41 h13.8 M205.8,353.64 h13.8 M205.8,347.87 h13.8 M205.8,342.09 h13.8 M205.8,336.32 h13.8 M205.8,330.55 h13.8 M205.8,324.77 h13.8" stroke="#000" stroke-opacity="0.85" stroke-width="0.7"/>
<rect x="205.8" y="319.0" width="13.8" height="86.60" fill="none" stroke="#000" stroke-width="0.8"/>
<text x="224.5" y="176.6" font-size="9.4" textLength="30" lengthAdjust="spacingAndGlyphs">14.5 ms</text>
<text x="224.5" y="261.6" font-size="9.4" textLength="25.5" lengthAdjust="spacingAndGlyphs">0.0 ms</text>
<text x="224.5" y="322.6" font-size="9.4" textLength="25.8" lengthAdjust="spacingAndGlyphs">120 ms</text>
<text x="224.5" y="407.8" font-size="9.4" textLength="21.6" lengthAdjust="spacingAndGlyphs">44 ms</text>
<path d="M307.3,174.2 V260.2 H383" fill="none" stroke="#000" stroke-width="1.1"/>
<path d="M307.3,260.00 h-3.2 M307.3,251.58 h-1.8 M307.3,243.16 h-3.2 M307.3,234.74 h-1.8 M307.3,226.32 h-3.2 M307.3,217.90 h-1.8 M307.3,209.48 h-3.2 M307.3,201.06 h-1.8 M307.3,192.64 h-3.2 M307.3,184.22 h-1.8 M307.3,175.80 h-3.2 M326.5,260.2 v3 M364.6,260.2 v3" stroke="#000" stroke-width="0.9" fill="none"/>
<text x="301.2" y="263.1" font-size="8.8" fill="#000" stroke="#000" stroke-width="0.18" font-weight="normal" text-anchor="end" textLength="11.8" lengthAdjust="spacingAndGlyphs" >0.0</text>
<text x="301.2" y="246.26" font-size="8.8" fill="#000" stroke="#000" stroke-width="0.18" font-weight="normal" text-anchor="end" textLength="11.8" lengthAdjust="spacingAndGlyphs" >0.2</text>
<text x="301.2" y="229.42" font-size="8.8" fill="#000" stroke="#000" stroke-width="0.18" font-weight="normal" text-anchor="end" textLength="11.8" lengthAdjust="spacingAndGlyphs" >0.4</text>
<text x="301.2" y="212.58" font-size="8.8" fill="#000" stroke="#000" stroke-width="0.18" font-weight="normal" text-anchor="end" textLength="11.8" lengthAdjust="spacingAndGlyphs" >0.6</text>
<text x="301.2" y="195.74" font-size="8.8" fill="#000" stroke="#000" stroke-width="0.18" font-weight="normal" text-anchor="end" textLength="11.8" lengthAdjust="spacingAndGlyphs" >0.8</text>
<text x="301.2" y="178.9" font-size="8.8" fill="#000" stroke="#000" stroke-width="0.18" font-weight="normal" text-anchor="end" textLength="11.8" lengthAdjust="spacingAndGlyphs" >1.0</text>
<rect x="311.2" y="188.43" width="30.40" height="18.52" fill="#8e97c1"/>
<path d="M326.5,188.43 V184.22 M324.0,184.22 h5 M326.5,206.95 V211.16 M324.0,211.16 h5" stroke="#26428a" stroke-width="0.9" fill="none"/>
<line x1="311.2" y1="197.27" x2="341.6" y2="197.27" stroke="#26428a" stroke-width="1.3"/>
<circle cx="321.5" cy="187.3" r="1.45" fill="#1d3b7c"/>
<circle cx="326.5" cy="184.5" r="1.45" fill="#1d3b7c"/>
<circle cx="331.6" cy="189.8" r="1.45" fill="#1d3b7c"/>
<circle cx="316.2" cy="193.9" r="1.45" fill="#1d3b7c"/>
<circle cx="336.8" cy="196.1" r="1.45" fill="#1d3b7c"/>
<circle cx="326.5" cy="200.1" r="1.45" fill="#1d3b7c"/>
<circle cx="321.5" cy="204.5" r="1.45" fill="#1d3b7c"/>
<circle cx="331.9" cy="202.7" r="1.45" fill="#1d3b7c"/>
<circle cx="321.5" cy="211.2" r="1.45" fill="#1d3b7c"/>
<circle cx="331.5" cy="210.4" r="1.45" fill="#1d3b7c"/>
<rect x="349.4" y="205.27" width="30.50" height="11.79" fill="#d29088"/>
<path d="M364.6,205.27 V204.01 M362.1,204.01 h5 M364.6,217.06 V220.00 M362.1,220.00 h5" stroke="#c0123a" stroke-width="0.9" fill="none"/>
<line x1="349.4" y1="209.06" x2="379.9" y2="209.06" stroke="#c0123a" stroke-width="1.3"/>
<circle cx="353.5" cy="207.8" r="1.45" fill="#b50d33"/>
<circle cx="360.7" cy="209.5" r="1.45" fill="#b50d33"/>
<circle cx="364.5" cy="211.2" r="1.45" fill="#b50d33"/>
<circle cx="368.5" cy="208.4" r="1.45" fill="#b50d33"/>
<circle cx="375.8" cy="207.6" r="1.45" fill="#b50d33"/>
<circle cx="372.2" cy="215.9" r="1.45" fill="#b50d33"/>
<circle cx="356.8" cy="220.2" r="1.45" fill="#b50d33"/>
<circle cx="364.5" cy="220.2" r="1.45" fill="#b50d33"/>
<circle cx="361.9" cy="181.2" r="1.2" fill="#2a2a2a"/>
<text x="318.0" y="274.8" font-size="9.4" fill="#3d5c9e" stroke="#3d5c9e" stroke-width="0.18" font-weight="normal" text-anchor="start" textLength="16.1" lengthAdjust="spacingAndGlyphs" >CTR</text>
<text x="355.90000000000003" y="274.8" font-size="9.4" fill="#b82a50" stroke="#b82a50" stroke-width="0.18" font-weight="normal" text-anchor="start" textLength="17.2" lengthAdjust="spacingAndGlyphs" >SCD</text>
<text x="336.8" y="164.9" font-size="10.6" fill="#000" stroke="#000" stroke-width="0.18" font-weight="normal" text-anchor="start" textLength="12.2" lengthAdjust="spacingAndGlyphs" >CV</text>
<text x="348.2" y="166.6" font-size="7.8" fill="#000" stroke="#000" stroke-width="0.18" font-weight="normal" text-anchor="start" textLength="5.6" lengthAdjust="spacingAndGlyphs" >L</text>
<path d="M435.3,174.2 V260.2 H512" fill="none" stroke="#000" stroke-width="1.1"/>
<path d="M435.3,259.80 h-3.2 M435.3,251.42 h-1.8 M435.3,243.04 h-3.2 M435.3,234.66 h-1.8 M435.3,226.28 h-3.2 M435.3,217.90 h-1.8 M435.3,209.52 h-3.2 M435.3,201.14 h-1.8 M435.3,192.76 h-3.2 M435.3,184.38 h-1.8 M435.3,176.00 h-3.2 M455.2,260.2 v3 M493.2,260.2 v3" stroke="#000" stroke-width="0.9" fill="none"/>
<text x="429.6" y="262.9" font-size="8.8" fill="#000" stroke="#000" stroke-width="0.18" font-weight="normal" text-anchor="end" textLength="11.8" lengthAdjust="spacingAndGlyphs" >0.0</text>
<text x="429.6" y="246.14" font-size="8.8" fill="#000" stroke="#000" stroke-width="0.18" font-weight="normal" text-anchor="end" textLength="11.8" lengthAdjust="spacingAndGlyphs" >0.2</text>
<text x="429.6" y="229.38" font-size="8.8" fill="#000" stroke="#000" stroke-width="0.18" font-weight="normal" text-anchor="end" textLength="11.8" lengthAdjust="spacingAndGlyphs" >0.4</text>
<text x="429.6" y="212.62" font-size="8.8" fill="#000" stroke="#000" stroke-width="0.18" font-weight="normal" text-anchor="end" textLength="11.8" lengthAdjust="spacingAndGlyphs" >0.6</text>
<text x="429.6" y="195.86" font-size="8.8" fill="#000" stroke="#000" stroke-width="0.18" font-weight="normal" text-anchor="end" textLength="11.8" lengthAdjust="spacingAndGlyphs" >0.8</text>
<text x="429.6" y="179.1" font-size="8.8" fill="#000" stroke="#000" stroke-width="0.18" font-weight="normal" text-anchor="end" textLength="11.8" lengthAdjust="spacingAndGlyphs" >1.0</text>
<rect x="440.1" y="225.44" width="30.60" height="7.96" fill="#8e97c1"/>
<path d="M455.2,225.44 V221.67 M452.7,221.67 h5 M455.2,233.40 V238.43 M452.7,238.43 h5" stroke="#26428a" stroke-width="0.9" fill="none"/>
<line x1="440.1" y1="229.21" x2="470.7" y2="229.21" stroke="#26428a" stroke-width="1.3"/>
<circle cx="451.6" cy="225.8" r="1.45" fill="#1d3b7c"/>
<circle cx="459.2" cy="225.8" r="1.45" fill="#1d3b7c"/>
<circle cx="444.2" cy="229.5" r="1.45" fill="#1d3b7c"/>
<circle cx="451.6" cy="228.5" r="1.45" fill="#1d3b7c"/>
<circle cx="459.2" cy="229.5" r="1.45" fill="#1d3b7c"/>
<circle cx="467.3" cy="229.7" r="1.45" fill="#1d3b7c"/>
<circle cx="451.6" cy="233.5" r="1.45" fill="#1d3b7c"/>
<circle cx="459.2" cy="233.5" r="1.45" fill="#1d3b7c"/>
<circle cx="455.2" cy="221.8" r="1.45" fill="#1d3b7c"/>
<circle cx="455.2" cy="238.5" r="1.45" fill="#1d3b7c"/>
<rect x="478.1" y="227.12" width="30.70" height="7.54" fill="#d29088"/>
<path d="M493.2,227.12 V224.19 M490.7,224.19 h5 M493.2,234.66 V239.27 M490.7,239.27 h5" stroke="#c0123a" stroke-width="0.9" fill="none"/>
<line x1="478.1" y1="229.63" x2="508.8" y2="229.63" stroke="#c0123a" stroke-width="1.3"/>
<circle cx="488.1" cy="226.2" r="1.45" fill="#b50d33"/>
<circle cx="498.4" cy="226.9" r="1.45" fill="#b50d33"/>
<circle cx="483.2" cy="229.5" r="1.45" fill="#b50d33"/>
<circle cx="493.2" cy="229.2" r="1.45" fill="#b50d33"/>
<circle cx="503.5" cy="229.5" r="1.45" fill="#b50d33"/>
<circle cx="493.2" cy="231.5" r="1.45" fill="#b50d33"/>
<circle cx="483.2" cy="233.5" r="1.45" fill="#b50d33"/>
<circle cx="503.5" cy="233.5" r="1.45" fill="#b50d33"/>
<circle cx="493.2" cy="236.9" r="1.45" fill="#b50d33"/>
<circle cx="493.2" cy="239.7" r="1.45" fill="#b50d33"/>
<text x="446.7" y="274.8" font-size="9.4" fill="#3d5c9e" stroke="#3d5c9e" stroke-width="0.18" font-weight="normal" text-anchor="start" textLength="16.1" lengthAdjust="spacingAndGlyphs" >CTR</text>
<text x="484.5" y="274.8" font-size="9.4" fill="#b82a50" stroke="#b82a50" stroke-width="0.18" font-weight="normal" text-anchor="start" textLength="17.2" lengthAdjust="spacingAndGlyphs" >SCD</text>
<text x="465.2" y="164.9" font-size="10.6" fill="#000" stroke="#000" stroke-width="0.18" font-weight="normal" text-anchor="start" textLength="12.6" lengthAdjust="spacingAndGlyphs" >CV</text>
<text x="477.6" y="166.6" font-size="8.4" fill="#000" stroke="#000" stroke-width="0.18" font-weight="normal" text-anchor="start" textLength="6.2" lengthAdjust="spacingAndGlyphs" >T</text>
<path d="M308.0,319.1 V405.9 H382.7" fill="none" stroke="#000" stroke-width="1.1"/>
<path d="M308.0,394.00 h-3.2 M308.0,381.95 h-1.8 M308.0,369.90 h-3.2 M308.0,357.85 h-1.8 M308.0,345.80 h-3.2 M308.0,333.75 h-1.8 M308.0,321.70 h-3.2 M326.6,405.9 v3 M364.6,405.9 v3" stroke="#000" stroke-width="0.9" fill="none"/>
<text x="301.4" y="397.1" font-size="8.8" fill="#000" stroke="#000" stroke-width="0.18" font-weight="normal" text-anchor="end" textLength="8.6" lengthAdjust="spacingAndGlyphs" >40</text>
<text x="301.4" y="373.0" font-size="8.8" fill="#000" stroke="#000" stroke-width="0.18" font-weight="normal" text-anchor="end" textLength="8.6" lengthAdjust="spacingAndGlyphs" >60</text>
<text x="301.4" y="348.9" font-size="8.8" fill="#000" stroke="#000" stroke-width="0.18" font-weight="normal" text-anchor="end" textLength="8.6" lengthAdjust="spacingAndGlyphs" >80</text>
<text x="301.4" y="324.8" font-size="8.8" fill="#000" stroke="#000" stroke-width="0.18" font-weight="normal" text-anchor="end" textLength="15.5" lengthAdjust="spacingAndGlyphs" >100</text>
<rect x="311.3" y="357.01" width="30.60" height="25.31" fill="#8e97c1"/>
<path d="M326.6,357.01 V350.02 M324.1,350.02 h5 M326.6,382.31 V389.66 M324.1,389.66 h5" stroke="#26428a" stroke-width="0.9" fill="none"/>
<line x1="311.3" y1="369.30" x2="341.9" y2="369.30" stroke="#26428a" stroke-width="1.3"/>
<circle cx="321.3" cy="354.6" r="1.45" fill="#1d3b7c"/>
<circle cx="331.6" cy="354.6" r="1.45" fill="#1d3b7c"/>
<circle cx="331.6" cy="357.7" r="1.45" fill="#1d3b7c"/>
<circle cx="321.3" cy="363" r="1.45" fill="#1d3b7c"/>
<circle cx="316.5" cy="373.5" r="1.45" fill="#1d3b7c"/>
<circle cx="326.6" cy="369.3" r="1.45" fill="#1d3b7c"/>
<circle cx="336.8" cy="369.9" r="1.45" fill="#1d3b7c"/>
<circle cx="326.6" cy="379.7" r="1.45" fill="#1d3b7c"/>
<circle cx="321.3" cy="386.4" r="1.45" fill="#1d3b7c"/>
<circle cx="331.6" cy="390.2" r="1.45" fill="#1d3b7c"/>
<rect x="349.6" y="342.67" width="30.40" height="19.64" fill="#d29088"/>
<path d="M364.6,342.67 V337.37 M362.1,337.37 h5 M364.6,362.31 V369.90 M362.1,369.90 h5" stroke="#c0123a" stroke-width="0.9" fill="none"/>
<line x1="349.6" y1="353.51" x2="380.0" y2="353.51" stroke="#c0123a" stroke-width="1.3"/>
<circle cx="359.5" cy="341.8" r="1.45" fill="#b50d33"/>
<circle cx="369.9" cy="341.0" r="1.45" fill="#b50d33"/>
<circle cx="359.5" cy="345.2" r="1.45" fill="#b50d33"/>
<circle cx="369.9" cy="347.1" r="1.45" fill="#b50d33"/>
<circle cx="354.2" cy="357.3" r="1.45" fill="#b50d33"/>
<circle cx="364.7" cy="353.6" r="1.45" fill="#b50d33"/>
<circle cx="364.7" cy="359.2" r="1.45" fill="#b50d33"/>
<circle cx="374.7" cy="363.0" r="1.45" fill="#b50d33"/>
<circle cx="364.7" cy="368.2" r="1.45" fill="#b50d33"/>
<circle cx="364.7" cy="370.3" r="1.45" fill="#b50d33"/>
<circle cx="367.2" cy="314.6" r="1.2" fill="#2a2a2a"/>
<text x="318.1" y="420.0" font-size="9.4" fill="#3d5c9e" stroke="#3d5c9e" stroke-width="0.18" font-weight="normal" text-anchor="start" textLength="16.1" lengthAdjust="spacingAndGlyphs" >CTR</text>
<text x="355.90000000000003" y="420.0" font-size="9.4" fill="#b82a50" stroke="#b82a50" stroke-width="0.18" font-weight="normal" text-anchor="start" textLength="17.2" lengthAdjust="spacingAndGlyphs" >SCD</text>
<text x="334.8" y="310.5" font-size="10.4" fill="#000" stroke="#000" stroke-width="0.18" font-weight="normal" text-anchor="start" textLength="21.2" lengthAdjust="spacingAndGlyphs" >APD</text>
<path d="M435.5,320.4 V406.3 H512" fill="none" stroke="#000" stroke-width="1.1"/>
<path d="M435.5,398.30 h-3.2 M435.5,383.08 h-3.2 M435.5,367.86 h-3.2 M435.5,352.64 h-3.2 M435.5,337.42 h-3.2 M435.5,322.20 h-3.2 M435.5,390.69 h-1.8 M435.5,375.47 h-1.8 M435.5,360.25 h-1.8 M435.5,345.03 h-1.8 M435.5,329.81 h-1.8 M455.3,406.3 v3 M493.6,406.3 v3" stroke="#000" stroke-width="0.9" fill="none"/>
<text x="429.2" y="401.4" font-size="8.8" fill="#000" stroke="#000" stroke-width="0.18" font-weight="normal" text-anchor="end" textLength="10.4" lengthAdjust="spacingAndGlyphs" >10</text>
<text x="429.2" y="386.18" font-size="8.8" fill="#000" stroke="#000" stroke-width="0.18" font-weight="normal" text-anchor="end" textLength="10.4" lengthAdjust="spacingAndGlyphs" >20</text>
<text x="429.2" y="370.96" font-size="8.8" fill="#000" stroke="#000" stroke-width="0.18" font-weight="normal" text-anchor="end" textLength="10.4" lengthAdjust="spacingAndGlyphs" >30</text>
<text x="429.2" y="355.74" font-size="8.8" fill="#000" stroke="#000" stroke-width="0.18" font-weight="normal" text-anchor="end" textLength="10.4" lengthAdjust="spacingAndGlyphs" >40</text>
<text x="429.2" y="340.52" font-size="8.8" fill="#000" stroke="#000" stroke-width="0.18" font-weight="normal" text-anchor="end" textLength="10.4" lengthAdjust="spacingAndGlyphs" >50</text>
<text x="429.2" y="325.3" font-size="8.8" fill="#000" stroke="#000" stroke-width="0.18" font-weight="normal" text-anchor="end" textLength="10.4" lengthAdjust="spacingAndGlyphs" >60</text>
<rect x="440.2" y="378.82" width="30.40" height="14.00" fill="#8e97c1"/>
<path d="M455.3,378.82 V375.93 M452.8,375.93 h5 M455.3,392.82 V398.30 M452.8,398.30 h5" stroke="#26428a" stroke-width="0.9" fill="none"/>
<line x1="440.2" y1="384.15" x2="470.6" y2="384.15" stroke="#26428a" stroke-width="1.3"/>
<circle cx="451.8" cy="378.5" r="1.45" fill="#1d3b7c"/>
<circle cx="455.3" cy="376.6" r="1.45" fill="#1d3b7c"/>
<circle cx="444.4" cy="387" r="1.45" fill="#1d3b7c"/>
<circle cx="451.8" cy="383.7" r="1.45" fill="#1d3b7c"/>
<circle cx="459.5" cy="382.3" r="1.45" fill="#1d3b7c"/>
<circle cx="459.5" cy="383.7" r="1.45" fill="#1d3b7c"/>
<circle cx="466.8" cy="383.7" r="1.45" fill="#1d3b7c"/>
<circle cx="451.8" cy="394.4" r="1.45" fill="#1d3b7c"/>
<circle cx="459.5" cy="393.1" r="1.45" fill="#1d3b7c"/>
<circle cx="455.3" cy="398" r="1.45" fill="#1d3b7c"/>
<rect x="478.4" y="355.68" width="30.30" height="31.51" fill="#d29088"/>
<path d="M493.6,355.68 V346.55 M491.1,346.55 h5 M493.6,387.19 V396.32 M491.1,396.32 h5" stroke="#c0123a" stroke-width="0.9" fill="none"/>
<line x1="478.4" y1="377.14" x2="508.7" y2="377.14" stroke="#c0123a" stroke-width="1.3"/>
<circle cx="490.1" cy="349.4" r="1.45" fill="#b50d33"/>
<circle cx="501" cy="368.2" r="1.45" fill="#b50d33"/>
<circle cx="485.9" cy="376" r="1.45" fill="#b50d33"/>
<circle cx="505.2" cy="380.2" r="1.45" fill="#b50d33"/>
<circle cx="489.9" cy="383.3" r="1.45" fill="#b50d33"/>
<circle cx="497.2" cy="385.8" r="1.45" fill="#b50d33"/>
<circle cx="482.1" cy="387.5" r="1.45" fill="#b50d33"/>
<circle cx="493.6" cy="377" r="1.45" fill="#b50d33"/>
<circle cx="489.0" cy="324.0" r="1.2" fill="#2a2a2a"/>
<text x="446.8" y="420.0" font-size="9.4" fill="#3d5c9e" stroke="#3d5c9e" stroke-width="0.18" font-weight="normal" text-anchor="start" textLength="16.1" lengthAdjust="spacingAndGlyphs" >CTR</text>
<text x="484.90000000000003" y="420.0" font-size="9.4" fill="#b82a50" stroke="#b82a50" stroke-width="0.18" font-weight="normal" text-anchor="start" textLength="17.2" lengthAdjust="spacingAndGlyphs" >SCD</text>
<text x="437.8" y="310.5" font-size="10.4" fill="#000" stroke="#000" stroke-width="0.18" font-weight="normal" text-anchor="start" textLength="72.6" lengthAdjust="spacingAndGlyphs" >APD dispersion</text>
<text transform="translate(278.7,209.7) rotate(-90)" font-size="9.5" stroke="#000" stroke-width="0.18" text-anchor="middle" textLength="47.4" lengthAdjust="spacingAndGlyphs">CV<tspan font-size="6.5" dy="1.5">L</tspan><tspan dy="-1.5"> (mm/ms)</tspan></text>
<text transform="translate(408.8,215.6) rotate(-90)" font-size="9.5" stroke="#000" stroke-width="0.18" text-anchor="middle" textLength="50" lengthAdjust="spacingAndGlyphs">CV<tspan font-size="6.5" dy="1.5">T</tspan><tspan dy="-1.5"> (mm/ms)</tspan></text>
<text transform="translate(279.4,362.7) rotate(-90)" font-size="9.5" stroke="#000" stroke-width="0.18" text-anchor="middle" textLength="33.4" lengthAdjust="spacingAndGlyphs">APD (ms)</text>
<text transform="translate(407.7,362.0) rotate(-90)" font-size="9.5" stroke="#000" stroke-width="0.18" text-anchor="middle" textLength="39.7" lengthAdjust="spacingAndGlyphs">ΔAPD (ms)</text>
</svg>
</body></html>
